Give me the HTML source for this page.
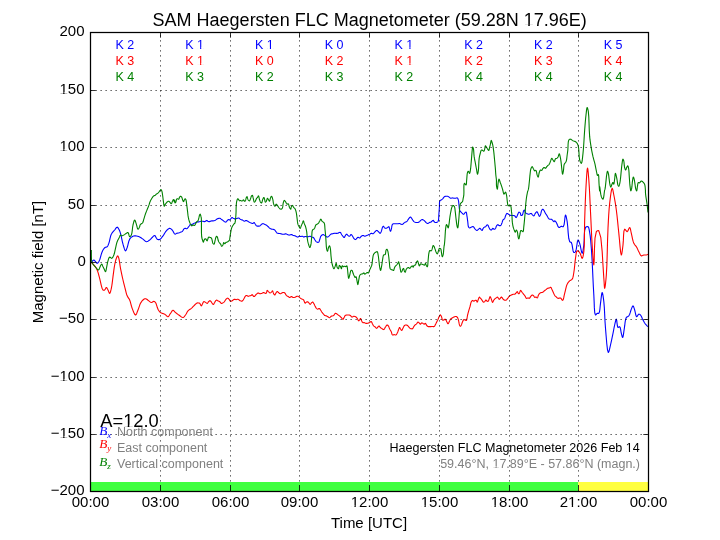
<!DOCTYPE html><html><head><meta charset="utf-8"><style>html,body{margin:0;padding:0;background:#fff;}svg{display:block;}text{font-family:"Liberation Sans",sans-serif;}</style></head><body>
<div style="will-change:transform;width:720px;height:540px">
<svg width="720" height="540" viewBox="0 0 720 540">
<rect x="0" y="0" width="720" height="540" fill="#fff"/>
<g fill="none" stroke-width="1.1" stroke-linejoin="round" stroke-linecap="butt">
<path d="M91.33 262.50 L91.62 262.11 L92.30 261.25 L93.13 260.39 L93.83 260.00 L94.27 260.18 L94.69 260.63 L95.09 261.17 L95.50 261.67 L95.91 262.17 L96.33 262.72 L96.74 263.16 L97.17 263.33 L97.69 263.09 L98.23 262.49 L98.76 261.69 L99.25 260.83 L99.85 259.38 L100.36 257.62 L100.84 255.80 L101.33 254.17 L101.73 253.02 L102.11 251.93 L102.52 250.92 L103.00 250.00 L103.47 249.27 L103.97 248.59 L104.52 247.99 L105.08 247.50 L105.60 247.25 L106.15 247.11 L106.69 246.96 L107.17 246.67 L107.67 246.06 L108.08 245.27 L108.45 244.36 L108.83 243.33 L109.42 241.28 L109.96 238.79 L110.56 236.28 L111.33 234.17 L112.09 232.94 L112.95 231.88 L113.83 230.93 L114.67 230.00 L115.32 229.11 L115.97 228.19 L116.59 227.46 L117.17 227.17 L117.62 227.37 L118.04 227.86 L118.45 228.50 L118.83 229.17 L119.29 230.04 L119.71 231.01 L120.10 232.10 L120.50 233.33 L121.12 235.74 L121.72 238.60 L122.33 241.53 L123.00 244.17 L123.60 246.27 L124.24 248.43 L124.88 250.13 L125.50 250.83 L125.93 250.52 L126.34 249.70 L126.75 248.61 L127.17 247.50 L127.75 245.57 L128.31 243.24 L128.92 240.96 L129.67 239.17 L130.22 238.35 L130.82 237.68 L131.46 237.12 L132.17 236.67 L132.93 236.30 L133.76 236.04 L134.62 235.88 L135.50 235.83 L136.53 235.94 L137.60 236.21 L138.66 236.58 L139.67 237.00 L140.55 237.46 L141.38 238.00 L142.19 238.58 L143.00 239.17 L143.83 239.87 L144.66 240.67 L145.49 241.34 L146.33 241.67 L147.17 241.55 L148.04 241.14 L148.88 240.57 L149.67 240.00 L150.34 239.43 L150.95 238.78 L151.55 238.12 L152.17 237.50 L152.79 236.86 L153.43 236.18 L154.06 235.66 L154.67 235.50 L155.30 236.04 L155.89 237.16 L156.49 238.36 L157.17 239.17 L157.76 239.45 L158.39 239.62 L159.04 239.64 L159.67 239.50 L160.52 238.94 L161.36 238.02 L162.19 236.92 L163.00 235.83 L163.84 234.60 L164.64 233.26 L165.46 231.95 L166.33 230.83 L167.14 229.99 L167.99 229.19 L168.85 228.58 L169.67 228.33 L170.32 228.47 L170.95 228.86 L171.57 229.41 L172.17 230.00 L172.91 231.04 L173.62 232.37 L174.31 233.56 L175.00 234.17 L175.41 234.13 L175.82 233.88 L176.23 233.57 L176.67 233.33 L177.17 233.20 L177.69 233.12 L178.23 233.04 L178.75 232.92 L179.28 232.74 L179.81 232.53 L180.33 232.31 L180.83 232.08 L181.28 231.90 L181.71 231.73 L182.13 231.53 L182.50 231.25 L182.85 230.79 L183.14 230.21 L183.43 229.64 L183.75 229.17 L184.04 228.88 L184.34 228.63 L184.66 228.44 L185.00 228.33 L185.40 228.38 L185.83 228.56 L186.26 228.73 L186.67 228.75 L187.11 228.50 L187.54 228.07 L187.95 227.56 L188.33 227.08 L188.70 226.65 L189.07 226.19 L189.38 225.76 L189.58 225.42 L189.61 225.29 L189.61 225.19 L189.62 225.09 L189.67 225.00 L189.93 224.86 L190.35 224.76 L190.82 224.68 L191.25 224.58 L191.57 224.49 L191.88 224.39 L192.18 224.29 L192.50 224.17 L192.90 223.98 L193.32 223.77 L193.75 223.55 L194.17 223.33 L194.58 223.12 L195.00 222.89 L195.41 222.68 L195.83 222.50 L196.24 222.37 L196.65 222.27 L197.07 222.18 L197.50 222.08 L198.01 221.98 L198.54 221.88 L199.07 221.77 L199.58 221.67 L200.01 221.56 L200.43 221.43 L200.84 221.33 L201.25 221.25 L201.67 221.21 L202.10 221.19 L202.52 221.21 L202.92 221.25 L203.24 221.35 L203.56 221.49 L203.86 221.61 L204.17 221.67 L204.48 221.63 L204.80 221.53 L205.11 221.40 L205.42 221.25 L205.74 221.03 L206.05 220.75 L206.36 220.52 L206.67 220.42 L206.98 220.52 L207.29 220.75 L207.60 221.03 L207.92 221.25 L208.22 221.40 L208.54 221.53 L208.85 221.63 L209.17 221.67 L209.47 221.62 L209.78 221.51 L210.09 221.37 L210.42 221.25 L210.82 221.13 L211.25 221.01 L211.68 220.90 L212.08 220.83 L212.40 220.82 L212.71 220.83 L213.01 220.85 L213.33 220.83 L213.74 220.78 L214.16 220.70 L214.59 220.58 L215.00 220.42 L215.43 220.15 L215.84 219.81 L216.24 219.46 L216.67 219.17 L217.07 218.95 L217.49 218.77 L217.91 218.62 L218.33 218.50 L218.75 218.40 L219.19 218.32 L219.61 218.29 L220.00 218.33 L220.33 218.47 L220.64 218.68 L220.93 218.92 L221.25 219.17 L221.65 219.46 L222.07 219.77 L222.50 220.10 L222.92 220.42 L223.34 220.75 L223.76 221.09 L224.17 221.41 L224.58 221.67 L224.90 221.84 L225.22 221.99 L225.53 222.09 L225.83 222.08 L226.16 221.90 L226.47 221.57 L226.78 221.19 L227.08 220.83 L227.39 220.48 L227.70 220.09 L228.01 219.77 L228.33 219.58 L228.64 219.62 L228.96 219.79 L229.28 219.96 L229.58 220.00 L229.91 219.82 L230.22 219.49 L230.53 219.11 L230.83 218.75 L231.14 218.38 L231.45 217.98 L231.76 217.65 L232.08 217.50 L232.39 217.58 L232.70 217.82 L233.01 218.11 L233.33 218.33 L233.66 218.45 L234.02 218.54 L234.34 218.63 L234.58 218.75 L234.67 218.86 L234.72 218.99 L234.77 219.11 L234.83 219.17 L234.93 219.14 L235.05 219.05 L235.18 218.93 L235.33 218.83 L235.68 218.72 L236.10 218.61 L236.56 218.52 L237.00 218.42 L237.42 218.28 L237.84 218.12 L238.26 218.00 L238.67 218.00 L239.09 218.20 L239.49 218.54 L239.90 218.93 L240.33 219.25 L240.83 219.49 L241.36 219.68 L241.89 219.87 L242.42 220.08 L242.95 220.38 L243.47 220.73 L243.99 221.03 L244.50 221.17 L244.93 221.07 L245.34 220.84 L245.76 220.60 L246.17 220.50 L246.59 220.60 L247.00 220.81 L247.42 221.08 L247.83 221.33 L248.25 221.58 L248.65 221.84 L249.07 222.10 L249.50 222.33 L250.01 222.57 L250.55 222.80 L251.09 223.00 L251.58 223.17 L251.92 223.27 L252.23 223.37 L252.53 223.43 L252.83 223.42 L253.16 223.24 L253.48 222.94 L253.79 222.67 L254.08 222.58 L254.41 222.80 L254.72 223.24 L255.03 223.77 L255.33 224.25 L255.63 224.70 L255.92 225.17 L256.23 225.60 L256.58 225.92 L256.96 226.07 L257.38 226.15 L257.82 226.17 L258.25 226.17 L258.68 226.16 L259.11 226.13 L259.53 226.06 L259.92 225.92 L260.25 225.67 L260.55 225.34 L260.84 224.98 L261.17 224.67 L261.56 224.36 L261.97 224.04 L262.40 223.79 L262.83 223.67 L263.25 223.70 L263.66 223.85 L264.08 224.05 L264.50 224.25 L264.92 224.43 L265.34 224.63 L265.76 224.85 L266.17 225.08 L266.59 225.36 L267.01 225.67 L267.43 225.99 L267.83 226.33 L268.25 226.74 L268.66 227.18 L269.07 227.62 L269.50 228.00 L269.90 228.30 L270.32 228.58 L270.74 228.81 L271.17 229.00 L271.58 229.10 L272.00 229.15 L272.42 229.18 L272.83 229.25 L273.26 229.35 L273.70 229.47 L274.12 229.62 L274.50 229.83 L274.85 230.14 L275.16 230.52 L275.45 230.93 L275.75 231.33 L276.05 231.77 L276.34 232.24 L276.65 232.67 L277.00 233.00 L277.38 233.18 L277.79 233.28 L278.22 233.35 L278.67 233.42 L279.18 233.49 L279.71 233.53 L280.24 233.58 L280.75 233.67 L281.18 233.80 L281.59 233.97 L282.00 234.14 L282.42 234.25 L282.83 234.30 L283.25 234.31 L283.67 234.29 L284.08 234.25 L284.50 234.15 L284.92 234.00 L285.34 233.87 L285.75 233.83 L286.17 233.92 L286.58 234.10 L287.00 234.31 L287.42 234.50 L287.83 234.68 L288.25 234.86 L288.66 235.01 L289.08 235.08 L289.51 235.04 L289.95 234.91 L290.37 234.77 L290.75 234.67 L290.99 234.62 L291.21 234.58 L291.43 234.56 L291.67 234.58 L292.05 234.72 L292.47 234.96 L292.90 235.21 L293.33 235.42 L293.75 235.54 L294.17 235.62 L294.59 235.71 L295.00 235.83 L295.43 236.02 L295.85 236.25 L296.27 236.47 L296.67 236.67 L296.99 236.82 L297.31 236.96 L297.61 237.07 L297.92 237.08 L298.23 236.94 L298.53 236.68 L298.83 236.42 L299.17 236.25 L299.56 236.24 L299.98 236.33 L300.41 236.45 L300.83 236.50 L301.26 236.45 L301.69 236.33 L302.11 236.24 L302.50 236.25 L302.83 236.42 L303.14 236.69 L303.44 236.95 L303.75 237.08 L304.05 237.02 L304.36 236.83 L304.67 236.63 L305.00 236.50 L305.40 236.49 L305.81 236.54 L306.24 236.62 L306.67 236.67 L307.08 236.69 L307.50 236.70 L307.92 236.70 L308.33 236.67 L308.75 236.56 L309.17 236.41 L309.59 236.28 L310.00 236.25 L310.42 236.38 L310.83 236.61 L311.25 236.87 L311.67 237.08 L312.09 237.18 L312.52 237.24 L312.94 237.32 L313.33 237.50 L313.80 237.98 L314.22 238.65 L314.61 239.36 L315.00 240.00 L315.31 240.47 L315.61 240.92 L315.92 241.32 L316.25 241.67 L316.55 241.90 L316.86 242.10 L317.18 242.25 L317.50 242.33 L317.82 242.36 L318.15 242.33 L318.47 242.25 L318.75 242.08 L319.02 241.72 L319.22 241.21 L319.39 240.61 L319.58 240.00 L319.87 239.09 L320.15 238.05 L320.46 237.06 L320.83 236.25 L321.12 235.85 L321.42 235.51 L321.75 235.23 L322.08 235.00 L322.39 234.83 L322.70 234.68 L323.02 234.59 L323.33 234.58 L323.65 234.70 L323.96 234.92 L324.27 235.18 L324.58 235.42 L324.90 235.62 L325.21 235.83 L325.52 236.04 L325.83 236.25 L326.14 236.49 L326.45 236.75 L326.76 236.97 L327.08 237.08 L327.39 237.07 L327.71 236.99 L328.03 236.84 L328.33 236.67 L328.66 236.41 L328.97 236.09 L329.28 235.75 L329.58 235.42 L329.89 235.08 L330.18 234.74 L330.49 234.42 L330.83 234.17 L331.22 234.01 L331.64 233.91 L332.07 233.84 L332.50 233.75 L332.92 233.64 L333.33 233.52 L333.75 233.41 L334.17 233.33 L334.58 233.30 L335.00 233.31 L335.42 233.32 L335.83 233.33 L336.25 233.35 L336.67 233.38 L337.09 233.39 L337.50 233.33 L337.93 233.16 L338.35 232.91 L338.76 232.66 L339.17 232.50 L339.49 232.43 L339.82 232.38 L340.13 232.40 L340.42 232.50 L340.77 232.86 L341.07 233.41 L341.36 234.03 L341.67 234.58 L341.97 235.03 L342.28 235.45 L342.59 235.86 L342.92 236.25 L343.23 236.65 L343.55 237.07 L343.86 237.39 L344.17 237.50 L344.49 237.23 L344.79 236.66 L345.09 235.98 L345.42 235.42 L345.72 235.01 L346.03 234.61 L346.35 234.29 L346.67 234.17 L346.98 234.31 L347.28 234.66 L347.60 235.07 L347.92 235.42 L348.23 235.68 L348.55 235.95 L348.87 236.16 L349.17 236.25 L349.39 236.22 L349.60 236.13 L349.80 235.99 L350.00 235.83 L350.22 235.56 L350.43 235.21 L350.63 234.88 L350.83 234.67 L350.96 234.60 L351.08 234.56 L351.20 234.55 L351.33 234.58 L351.63 234.82 L351.94 235.25 L352.27 235.76 L352.58 236.25 L352.89 236.77 L353.18 237.32 L353.48 237.86 L353.83 238.33 L354.22 238.76 L354.66 239.17 L355.09 239.48 L355.50 239.58 L355.83 239.43 L356.14 239.09 L356.44 238.69 L356.75 238.33 L357.05 238.03 L357.35 237.73 L357.66 237.47 L358.00 237.33 L358.40 237.41 L358.82 237.64 L359.26 237.86 L359.67 237.92 L360.10 237.66 L360.50 237.19 L360.91 236.67 L361.33 236.25 L361.74 235.96 L362.16 235.69 L362.58 235.49 L363.00 235.42 L363.42 235.54 L363.83 235.82 L364.25 236.10 L364.67 236.25 L365.08 236.20 L365.50 236.05 L365.92 235.85 L366.33 235.67 L366.75 235.51 L367.17 235.35 L367.59 235.18 L368.00 235.00 L368.42 234.80 L368.84 234.59 L369.25 234.38 L369.67 234.17 L370.08 233.93 L370.50 233.67 L370.91 233.45 L371.33 233.33 L371.75 233.39 L372.18 233.57 L372.60 233.74 L373.00 233.75 L373.43 233.49 L373.83 233.06 L374.24 232.55 L374.67 232.08 L375.17 231.58 L375.70 231.04 L376.24 230.60 L376.75 230.42 L377.18 230.54 L377.60 230.86 L378.01 231.27 L378.42 231.67 L378.85 232.15 L379.28 232.71 L379.70 233.17 L380.08 233.33 L380.43 233.10 L380.75 232.58 L381.05 231.92 L381.33 231.25 L381.67 230.24 L381.96 229.05 L382.25 227.92 L382.58 227.08 L382.78 226.77 L382.99 226.50 L383.20 226.31 L383.42 226.25 L383.71 226.47 L384.01 226.96 L384.33 227.52 L384.67 227.92 L384.96 228.10 L385.27 228.24 L385.59 228.32 L385.92 228.33 L386.33 228.23 L386.76 228.01 L387.18 227.75 L387.58 227.50 L387.92 227.24 L388.26 226.94 L388.56 226.71 L388.83 226.67 L389.11 227.01 L389.30 227.68 L389.48 228.46 L389.67 229.17 L389.87 229.80 L390.08 230.48 L390.29 231.03 L390.50 231.25 L390.71 231.04 L390.92 230.53 L391.13 229.85 L391.33 229.17 L391.59 227.95 L391.81 226.47 L392.10 225.10 L392.58 224.17 L393.04 223.90 L393.58 223.79 L394.14 223.77 L394.67 223.75 L395.10 223.73 L395.51 223.73 L395.92 223.74 L396.33 223.75 L396.75 223.76 L397.17 223.77 L397.58 223.77 L398.00 223.75 L398.42 223.68 L398.84 223.58 L399.26 223.50 L399.67 223.50 L400.09 223.65 L400.52 223.90 L400.93 224.16 L401.33 224.33 L401.66 224.40 L401.98 224.43 L402.29 224.41 L402.58 224.33 L402.91 224.13 L403.20 223.82 L403.51 223.48 L403.83 223.17 L404.23 222.87 L404.66 222.59 L405.09 222.32 L405.50 222.08 L405.83 221.92 L406.17 221.79 L406.48 221.66 L406.75 221.50 L406.92 221.36 L407.05 221.21 L407.18 221.04 L407.33 220.83 L407.69 220.30 L408.11 219.62 L408.55 218.92 L409.00 218.33 L409.37 217.91 L409.75 217.49 L410.13 217.19 L410.50 217.08 L410.87 217.27 L411.22 217.70 L411.57 218.23 L411.92 218.75 L412.32 219.36 L412.72 220.04 L413.14 220.70 L413.58 221.25 L413.97 221.60 L414.38 221.90 L414.80 222.15 L415.25 222.33 L415.75 222.46 L416.28 222.52 L416.82 222.53 L417.33 222.50 L417.77 222.46 L418.19 222.38 L418.60 222.27 L419.00 222.08 L419.43 221.74 L419.84 221.28 L420.24 220.81 L420.67 220.42 L421.07 220.13 L421.49 219.86 L421.91 219.66 L422.33 219.58 L422.75 219.66 L423.17 219.85 L423.58 220.12 L424.00 220.42 L424.52 220.88 L425.04 221.45 L425.57 222.02 L426.08 222.50 L426.50 222.84 L426.92 223.16 L427.33 223.41 L427.75 223.50 L428.16 223.38 L428.58 223.09 L428.99 222.76 L429.42 222.50 L429.84 222.38 L430.27 222.31 L430.69 222.23 L431.08 222.08 L431.43 221.81 L431.73 221.46 L432.03 221.11 L432.33 220.83 L432.59 220.66 L432.84 220.51 L433.09 220.41 L433.33 220.42 L433.61 220.68 L433.85 221.17 L434.10 221.70 L434.42 222.08 L434.79 222.29 L435.23 222.42 L435.67 222.49 L436.08 222.50 L436.42 222.46 L436.74 222.38 L437.05 222.25 L437.33 222.08 L437.62 221.86 L437.89 221.59 L438.13 221.25 L438.33 220.83 L438.59 219.72 L438.70 218.26 L438.75 216.64 L438.83 215.00 L438.98 212.99 L439.13 210.83 L439.28 208.68 L439.42 206.67 L439.46 205.01 L439.46 203.34 L439.54 201.88 L439.83 200.83 L440.09 200.53 L440.41 200.34 L440.74 200.19 L441.08 200.00 L441.49 199.72 L441.93 199.42 L442.36 199.10 L442.75 198.75 L443.08 198.34 L443.37 197.89 L443.66 197.45 L444.00 197.08 L444.37 196.80 L444.78 196.56 L445.21 196.37 L445.67 196.25 L446.25 196.19 L446.89 196.22 L447.54 196.32 L448.17 196.50 L448.82 196.87 L449.45 197.39 L450.07 197.88 L450.67 198.17 L451.10 198.18 L451.51 198.09 L451.92 197.97 L452.33 197.92 L452.75 197.95 L453.17 198.03 L453.58 198.11 L454.00 198.17 L454.42 198.19 L454.83 198.20 L455.25 198.19 L455.67 198.17 L456.10 198.08 L456.55 197.94 L456.97 197.85 L457.33 197.92 L457.67 198.23 L457.93 198.73 L458.14 199.35 L458.33 200.00 L458.57 201.08 L458.72 202.33 L458.85 203.67 L459.00 205.00 L459.16 206.53 L459.29 208.18 L459.49 209.69 L459.83 210.83 L460.11 211.24 L460.42 211.54 L460.76 211.80 L461.08 212.08 L461.39 212.40 L461.70 212.72 L462.02 213.04 L462.33 213.33 L462.64 213.65 L462.96 213.98 L463.28 214.24 L463.58 214.33 L463.90 214.15 L464.21 213.76 L464.51 213.30 L464.83 212.92 L465.15 212.62 L465.49 212.32 L465.81 212.11 L466.08 212.08 L466.40 212.56 L466.60 213.51 L466.75 214.69 L466.92 215.83 L467.14 217.20 L467.35 218.68 L467.54 220.19 L467.75 221.67 L467.91 223.15 L468.04 224.70 L468.23 226.09 L468.58 227.08 L468.85 227.42 L469.16 227.68 L469.49 227.85 L469.83 227.92 L470.23 227.83 L470.65 227.60 L471.08 227.32 L471.50 227.08 L471.89 226.88 L472.28 226.67 L472.66 226.52 L473.00 226.50 L473.28 226.64 L473.52 226.89 L473.76 227.19 L474.00 227.50 L474.30 227.89 L474.60 228.33 L474.91 228.77 L475.25 229.17 L475.64 229.57 L476.06 229.97 L476.49 230.29 L476.92 230.42 L477.34 230.27 L477.76 229.93 L478.18 229.52 L478.58 229.17 L478.91 228.90 L479.22 228.62 L479.53 228.40 L479.83 228.33 L480.15 228.50 L480.47 228.84 L480.77 229.24 L481.08 229.58 L481.36 229.86 L481.64 230.15 L481.92 230.36 L482.17 230.42 L482.44 230.13 L482.67 229.56 L482.90 228.89 L483.17 228.33 L483.45 227.96 L483.76 227.62 L484.08 227.33 L484.42 227.08 L484.72 226.95 L485.05 226.89 L485.37 226.81 L485.67 226.67 L486.00 226.29 L486.31 225.79 L486.61 225.30 L486.92 225.00 L487.13 224.92 L487.34 224.89 L487.55 224.91 L487.75 225.00 L488.09 225.40 L488.39 226.07 L488.69 226.82 L489.00 227.50 L489.29 228.08 L489.59 228.67 L489.90 229.19 L490.25 229.58 L490.55 229.79 L490.87 229.95 L491.20 230.03 L491.50 230.00 L491.83 229.69 L492.13 229.14 L492.43 228.60 L492.75 228.33 L493.05 228.44 L493.36 228.74 L493.68 229.07 L494.00 229.25 L494.31 229.26 L494.64 229.19 L494.96 229.05 L495.25 228.83 L495.61 228.26 L495.90 227.46 L496.17 226.61 L496.50 225.92 L496.79 225.50 L497.10 225.10 L497.42 224.80 L497.75 224.67 L498.05 224.76 L498.35 225.02 L498.66 225.30 L499.00 225.50 L499.41 225.60 L499.85 225.66 L500.28 225.64 L500.67 225.50 L501.05 225.08 L501.36 224.45 L501.64 223.72 L501.92 223.00 L502.22 222.15 L502.50 221.21 L502.80 220.34 L503.17 219.67 L503.46 219.41 L503.79 219.25 L504.12 219.09 L504.42 218.83 L504.78 218.15 L505.07 217.27 L505.35 216.33 L505.67 215.50 L505.95 214.86 L506.25 214.22 L506.57 213.69 L506.92 213.42 L507.21 213.43 L507.52 213.57 L507.84 213.79 L508.17 214.00 L508.57 214.26 L508.98 214.56 L509.40 214.85 L509.83 215.08 L510.24 215.24 L510.66 215.35 L511.08 215.44 L511.50 215.50 L511.92 215.52 L512.33 215.50 L512.75 215.48 L513.17 215.50 L513.60 215.55 L514.03 215.62 L514.45 215.73 L514.83 215.92 L515.19 216.33 L515.50 216.89 L515.79 217.38 L516.08 217.58 L516.40 217.36 L516.71 216.83 L517.02 216.15 L517.33 215.50 L517.73 214.59 L518.14 213.53 L518.55 212.62 L519.00 212.17 L519.31 212.19 L519.65 212.38 L519.97 212.67 L520.25 213.00 L520.50 213.60 L520.66 214.38 L520.82 215.09 L521.08 215.50 L521.37 215.55 L521.70 215.49 L522.04 215.32 L522.33 215.08 L522.73 214.27 L523.01 213.06 L523.27 211.82 L523.58 210.92 L523.78 210.60 L524.00 210.32 L524.21 210.13 L524.42 210.08 L524.71 210.49 L524.99 211.34 L525.28 212.29 L525.67 213.00 L526.04 213.30 L526.46 213.52 L526.90 213.68 L527.33 213.83 L527.74 213.99 L528.15 214.13 L528.57 214.23 L529.00 214.25 L529.52 214.08 L530.07 213.77 L530.61 213.49 L531.08 213.42 L531.43 213.60 L531.73 213.93 L532.02 214.31 L532.33 214.67 L532.70 215.05 L533.09 215.48 L533.47 215.82 L533.83 215.92 L534.21 215.59 L534.54 214.90 L534.87 214.10 L535.25 213.42 L535.65 212.87 L536.09 212.32 L536.52 211.89 L536.92 211.75 L537.26 212.00 L537.57 212.54 L537.87 213.21 L538.17 213.83 L538.48 214.55 L538.80 215.37 L539.10 216.04 L539.42 216.33 L539.69 216.18 L539.97 215.77 L540.25 215.23 L540.50 214.67 L540.81 213.71 L541.07 212.54 L541.34 211.40 L541.67 210.50 L541.92 210.06 L542.18 209.66 L542.46 209.37 L542.75 209.25 L543.06 209.37 L543.38 209.67 L543.70 210.08 L544.00 210.50 L544.33 211.05 L544.63 211.69 L544.92 212.36 L545.25 213.00 L545.64 213.63 L546.07 214.24 L546.50 214.86 L546.92 215.50 L547.33 216.26 L547.74 217.07 L548.15 217.82 L548.58 218.42 L548.88 218.71 L549.18 218.94 L549.50 219.12 L549.83 219.25 L550.24 219.29 L550.67 219.23 L551.11 219.19 L551.50 219.25 L551.85 219.47 L552.15 219.80 L552.45 220.16 L552.75 220.50 L553.07 220.87 L553.40 221.29 L553.72 221.62 L554.00 221.75 L554.18 221.60 L554.33 221.29 L554.48 220.98 L554.67 220.83 L555.03 220.97 L555.45 221.37 L555.90 221.91 L556.33 222.50 L556.93 223.73 L557.51 225.30 L558.12 226.73 L558.83 227.50 L559.42 227.44 L560.06 227.05 L560.71 226.60 L561.33 226.33 L561.86 226.40 L562.38 226.61 L562.88 226.77 L563.33 226.67 L564.14 224.45 L564.65 220.49 L565.05 216.70 L565.50 215.00 L565.92 215.64 L566.34 217.26 L566.76 219.43 L567.17 221.67 L567.72 226.53 L568.16 232.64 L568.73 238.27 L569.67 241.67 L570.06 242.00 L570.50 242.11 L570.93 242.21 L571.33 242.50 L572.05 244.60 L572.58 247.84 L573.11 250.92 L573.83 252.50 L574.23 252.56 L574.67 252.41 L575.10 252.10 L575.50 251.67 L576.28 249.18 L576.87 245.28 L577.39 241.65 L578.00 240.00 L578.41 240.29 L578.83 241.10 L579.25 242.19 L579.67 243.33 L580.33 245.91 L580.98 249.24 L581.60 252.12 L582.17 253.33 L582.63 252.49 L583.06 250.40 L583.46 247.69 L583.83 245.00 L584.15 240.56 L584.29 235.27 L584.62 230.47 L585.50 227.50 L586.08 226.97 L586.75 226.64 L587.43 226.54 L588.00 226.67 L588.61 227.45 L589.02 228.86 L589.34 230.63 L589.67 232.50 L590.19 235.93 L590.63 240.01 L591.00 244.28 L591.33 248.33 L591.58 251.60 L591.78 254.69 L591.96 257.94 L592.17 261.67 L592.54 269.14 L592.94 277.93 L593.37 286.91 L593.83 295.00 L594.12 301.23 L594.35 307.63 L594.74 312.72 L595.50 315.00 L595.87 314.85 L596.28 314.33 L596.71 313.72 L597.17 313.33 L597.58 313.30 L598.02 313.40 L598.45 313.47 L598.83 313.33 L599.50 311.84 L599.89 309.25 L600.17 306.20 L600.50 303.33 L600.92 300.15 L601.33 296.59 L601.74 293.70 L602.17 292.50 L602.59 293.39 L603.02 295.63 L603.45 298.60 L603.83 301.67 L604.32 307.38 L604.67 314.21 L605.02 321.43 L605.50 328.33 L606.09 335.58 L606.76 343.48 L607.51 349.85 L608.33 352.50 L608.85 351.74 L609.40 349.82 L609.96 347.36 L610.50 345.00 L611.15 342.22 L611.80 339.21 L612.42 336.18 L613.00 333.33 L613.44 331.12 L613.84 328.98 L614.24 326.94 L614.67 325.00 L615.07 323.19 L615.50 321.28 L615.93 319.77 L616.33 319.17 L616.71 320.41 L617.03 323.16 L617.41 326.00 L618.00 327.50 L618.39 327.43 L618.83 327.09 L619.28 326.74 L619.67 326.67 L620.23 327.61 L620.63 329.42 L620.96 331.52 L621.33 333.33 L621.67 334.65 L622.01 336.01 L622.34 337.08 L622.67 337.50 L623.10 336.50 L623.51 334.10 L623.91 331.10 L624.33 328.33 L624.73 325.45 L625.09 322.35 L625.57 319.52 L626.33 317.50 L626.90 316.94 L627.56 316.63 L628.23 316.33 L628.83 315.83 L629.58 314.46 L630.20 312.66 L630.76 310.78 L631.33 309.17 L631.76 308.09 L632.18 307.00 L632.60 306.16 L633.00 305.83 L633.43 306.27 L633.85 307.34 L634.26 308.69 L634.67 310.00 L635.14 311.84 L635.59 313.99 L636.07 315.82 L636.67 316.67 L637.16 316.35 L637.71 315.52 L638.27 314.64 L638.83 314.17 L639.25 314.18 L639.67 314.34 L640.09 314.63 L640.50 315.00 L641.16 315.95 L641.77 317.25 L642.37 318.68 L643.00 320.00 L643.60 321.11 L644.21 322.20 L644.84 323.23 L645.50 324.17 L646.22 324.98 L647.04 325.79 L647.72 326.42 L648.00 326.67" stroke="#0000ff"/>
<path d="M91.33 262.50 L91.72 262.85 L92.64 263.70 L93.74 264.79 L94.67 265.83 L95.37 266.78 L96.01 267.76 L96.60 268.82 L97.17 270.00 L97.85 271.83 L98.46 273.88 L99.04 276.08 L99.67 278.33 L100.43 281.51 L101.20 285.11 L102.04 288.23 L103.00 290.00 L103.41 290.20 L103.84 290.25 L104.27 290.17 L104.67 290.00 L105.13 289.46 L105.54 288.62 L105.93 287.84 L106.33 287.50 L106.75 287.76 L107.18 288.41 L107.59 289.23 L108.00 290.00 L108.44 290.95 L108.86 292.06 L109.27 292.97 L109.67 293.33 L110.12 292.82 L110.55 291.58 L110.96 289.97 L111.33 288.33 L111.82 285.77 L112.23 282.81 L112.61 279.70 L113.00 276.67 L113.40 273.67 L113.80 270.63 L114.21 267.68 L114.67 265.00 L115.05 263.12 L115.45 261.33 L115.87 259.72 L116.33 258.33 L116.66 257.49 L117.00 256.68 L117.34 256.07 L117.67 255.83 L117.97 256.07 L118.27 256.66 L118.56 257.46 L118.83 258.33 L119.29 260.34 L119.68 262.86 L120.06 265.62 L120.50 268.33 L121.07 271.21 L121.69 274.17 L122.34 277.13 L123.00 280.00 L123.62 282.62 L124.26 285.22 L124.90 287.71 L125.50 290.00 L125.90 291.60 L126.27 293.09 L126.67 294.50 L127.17 295.83 L127.74 296.90 L128.39 297.87 L129.06 298.86 L129.67 300.00 L130.33 301.89 L130.91 304.04 L131.48 306.26 L132.17 308.33 L132.94 310.38 L133.80 312.56 L134.68 314.29 L135.50 315.00 L136.16 314.47 L136.79 313.18 L137.40 311.54 L138.00 310.00 L138.63 308.35 L139.22 306.57 L139.82 304.84 L140.50 303.33 L141.08 302.35 L141.68 301.45 L142.32 300.67 L143.00 300.00 L143.59 299.51 L144.21 299.07 L144.85 298.77 L145.50 298.67 L146.32 298.93 L147.17 299.51 L148.02 300.22 L148.83 300.83 L149.48 301.33 L150.10 301.86 L150.71 302.30 L151.33 302.50 L151.97 302.33 L152.61 301.92 L153.25 301.50 L153.83 301.33 L154.29 301.44 L154.71 301.69 L155.11 302.04 L155.50 302.50 L156.16 303.82 L156.75 305.63 L157.33 307.55 L158.00 309.17 L158.55 310.15 L159.13 311.04 L159.76 311.82 L160.50 312.50 L161.45 313.02 L162.53 313.39 L163.64 313.73 L164.67 314.17 L165.57 314.87 L166.43 315.73 L167.24 316.43 L168.00 316.67 L168.68 316.24 L169.30 315.35 L169.89 314.29 L170.50 313.33 L171.11 312.44 L171.73 311.47 L172.36 310.69 L173.00 310.33 L173.60 310.54 L174.21 311.12 L174.84 311.84 L175.50 312.50 L176.28 313.12 L177.10 313.76 L177.95 314.39 L178.83 315.00 L179.86 315.78 L180.96 316.63 L182.04 317.29 L183.00 317.50 L183.70 317.20 L184.33 316.58 L184.92 315.79 L185.50 315.00 L186.13 314.02 L186.71 312.90 L187.31 311.80 L188.00 310.83 L188.77 310.13 L189.62 309.54 L190.49 308.97 L191.33 308.33 L192.19 307.53 L193.03 306.65 L193.86 305.78 L194.67 305.00 L195.30 304.39 L195.91 303.80 L196.52 303.31 L197.17 303.00 L197.79 302.90 L198.46 302.93 L199.10 303.07 L199.67 303.33 L200.16 303.92 L200.55 304.76 L200.92 305.51 L201.33 305.83 L201.90 305.22 L202.49 303.85 L203.13 302.44 L203.83 301.67 L204.49 301.73 L205.23 302.13 L205.93 302.62 L206.50 303.00 L206.72 303.15 L206.90 303.29 L207.07 303.40 L207.25 303.42 L207.55 303.19 L207.85 302.73 L208.16 302.20 L208.50 301.75 L208.86 301.39 L209.25 301.03 L209.64 300.76 L210.00 300.67 L210.31 300.79 L210.61 301.06 L210.89 301.40 L211.17 301.75 L211.45 302.14 L211.71 302.58 L211.97 303.02 L212.25 303.42 L212.52 303.77 L212.79 304.13 L213.07 304.40 L213.33 304.50 L213.59 304.33 L213.84 303.94 L214.08 303.46 L214.33 303.00 L214.63 302.48 L214.94 301.91 L215.25 301.37 L215.58 300.92 L215.84 300.63 L216.10 300.37 L216.38 300.17 L216.67 300.08 L217.00 300.16 L217.35 300.39 L217.71 300.67 L218.08 300.92 L218.49 301.11 L218.92 301.30 L219.34 301.50 L219.75 301.75 L220.18 302.17 L220.60 302.69 L221.00 303.16 L221.42 303.42 L221.73 303.42 L222.05 303.32 L222.36 303.16 L222.67 303.00 L222.99 302.83 L223.31 302.64 L223.62 302.42 L223.92 302.17 L224.25 301.80 L224.56 301.38 L224.86 300.93 L225.17 300.50 L225.47 300.06 L225.77 299.61 L226.08 299.18 L226.42 298.83 L226.75 298.57 L227.11 298.34 L227.48 298.19 L227.83 298.17 L228.23 298.37 L228.61 298.75 L228.98 299.22 L229.33 299.67 L229.65 300.13 L229.95 300.64 L230.25 301.08 L230.58 301.33 L230.88 301.35 L231.20 301.24 L231.52 301.08 L231.83 300.92 L232.15 300.73 L232.45 300.52 L232.76 300.30 L233.08 300.08 L233.48 299.83 L233.91 299.57 L234.34 299.35 L234.75 299.25 L235.07 299.30 L235.37 299.44 L235.68 299.59 L236.00 299.67 L236.41 299.60 L236.84 299.45 L237.26 299.30 L237.67 299.25 L238.00 299.33 L238.31 299.47 L238.61 299.65 L238.92 299.83 L239.23 300.03 L239.53 300.26 L239.84 300.48 L240.17 300.67 L240.57 300.86 L241.00 301.04 L241.44 301.17 L241.83 301.17 L242.18 301.02 L242.49 300.76 L242.79 300.43 L243.08 300.08 L243.42 299.62 L243.73 299.09 L244.03 298.54 L244.33 298.00 L244.63 297.44 L244.93 296.85 L245.23 296.31 L245.58 295.92 L245.88 295.72 L246.20 295.58 L246.52 295.50 L246.83 295.50 L247.15 295.65 L247.46 295.92 L247.77 296.19 L248.08 296.33 L248.39 296.31 L248.69 296.19 L249.01 296.04 L249.33 295.92 L249.74 295.82 L250.17 295.74 L250.60 295.64 L251.00 295.50 L251.34 295.27 L251.65 294.98 L251.96 294.74 L252.25 294.67 L252.58 294.92 L252.89 295.43 L253.19 295.97 L253.50 296.33 L253.71 296.45 L253.91 296.52 L254.12 296.54 L254.33 296.50 L254.64 296.28 L254.96 295.91 L255.27 295.48 L255.58 295.08 L255.89 294.75 L256.20 294.43 L256.51 294.12 L256.83 293.83 L257.13 293.57 L257.44 293.31 L257.75 293.10 L258.08 293.00 L258.48 293.07 L258.89 293.29 L259.32 293.53 L259.75 293.67 L260.16 293.68 L260.57 293.62 L260.99 293.53 L261.42 293.42 L261.94 293.21 L262.48 292.94 L263.01 292.70 L263.50 292.58 L263.83 292.62 L264.14 292.73 L264.44 292.87 L264.75 293.00 L265.08 293.14 L265.42 293.30 L265.74 293.42 L266.00 293.42 L266.17 293.28 L266.29 293.06 L266.39 292.79 L266.50 292.50 L266.67 291.96 L266.83 291.28 L267.01 290.70 L267.25 290.42 L267.52 290.52 L267.82 290.86 L268.16 291.29 L268.50 291.67 L268.90 292.04 L269.33 292.45 L269.76 292.78 L270.17 292.92 L270.49 292.84 L270.81 292.63 L271.12 292.36 L271.42 292.08 L271.71 291.73 L271.99 291.31 L272.25 290.96 L272.50 290.83 L272.77 291.15 L273.00 291.84 L273.23 292.65 L273.50 293.33 L273.79 293.87 L274.11 294.41 L274.44 294.84 L274.75 295.00 L275.07 294.75 L275.37 294.18 L275.68 293.50 L276.00 292.92 L276.30 292.47 L276.61 292.02 L276.93 291.66 L277.25 291.50 L277.55 291.59 L277.86 291.86 L278.17 292.19 L278.50 292.50 L278.90 292.86 L279.31 293.25 L279.74 293.59 L280.17 293.75 L280.58 293.67 L280.99 293.43 L281.41 293.14 L281.83 292.92 L282.25 292.76 L282.68 292.63 L283.10 292.53 L283.50 292.50 L283.83 292.53 L284.14 292.60 L284.45 292.73 L284.75 292.92 L285.18 293.41 L285.57 294.11 L285.98 294.83 L286.42 295.42 L286.81 295.75 L287.23 296.02 L287.66 296.25 L288.08 296.50 L288.50 296.80 L288.92 297.13 L289.33 297.39 L289.75 297.50 L290.17 297.34 L290.58 297.00 L291.00 296.66 L291.42 296.50 L291.83 296.64 L292.24 296.95 L292.66 297.29 L293.08 297.50 L293.49 297.55 L293.91 297.52 L294.34 297.44 L294.75 297.33 L295.18 297.16 L295.60 296.92 L296.01 296.68 L296.42 296.50 L296.74 296.39 L297.05 296.30 L297.36 296.25 L297.67 296.25 L297.99 296.33 L298.30 296.46 L298.61 296.64 L298.92 296.83 L299.23 297.07 L299.53 297.35 L299.84 297.64 L300.17 297.92 L300.56 298.20 L300.98 298.48 L301.41 298.75 L301.83 299.00 L302.26 299.19 L302.69 299.35 L303.11 299.54 L303.50 299.83 L303.97 300.63 L304.37 301.71 L304.75 302.69 L305.17 303.17 L305.47 303.06 L305.77 302.74 L306.09 302.36 L306.42 302.08 L306.72 301.95 L307.04 301.85 L307.36 301.80 L307.67 301.83 L307.99 302.00 L308.31 302.27 L308.61 302.60 L308.92 302.92 L309.24 303.32 L309.55 303.79 L309.86 304.17 L310.17 304.33 L310.48 304.17 L310.78 303.77 L311.09 303.30 L311.42 302.92 L311.72 302.63 L312.04 302.35 L312.36 302.14 L312.67 302.08 L313.00 302.29 L313.32 302.71 L313.62 303.23 L313.92 303.75 L314.24 304.34 L314.55 304.98 L314.85 305.63 L315.17 306.25 L315.46 306.81 L315.76 307.38 L316.08 307.90 L316.42 308.33 L316.71 308.62 L317.01 308.88 L317.33 309.07 L317.67 309.17 L318.07 309.07 L318.51 308.81 L318.94 308.56 L319.33 308.50 L319.68 308.71 L320.00 309.09 L320.29 309.55 L320.58 310.00 L320.90 310.49 L321.20 311.02 L321.50 311.56 L321.83 312.08 L322.24 312.63 L322.67 313.19 L323.11 313.72 L323.50 314.17 L323.74 314.41 L323.97 314.62 L324.18 314.82 L324.33 315.00 L324.38 315.11 L324.40 315.22 L324.43 315.32 L324.50 315.42 L324.79 315.55 L325.23 315.63 L325.71 315.72 L326.17 315.83 L326.59 316.01 L327.01 316.22 L327.42 316.44 L327.83 316.67 L328.25 316.96 L328.67 317.30 L329.09 317.57 L329.50 317.67 L329.92 317.47 L330.33 317.06 L330.74 316.59 L331.17 316.25 L331.58 316.10 L332.01 316.02 L332.44 315.95 L332.83 315.83 L333.17 315.67 L333.49 315.48 L333.79 315.26 L334.08 315.00 L334.40 314.58 L334.70 314.06 L335.00 313.60 L335.33 313.33 L335.63 313.32 L335.94 313.41 L336.26 313.57 L336.58 313.75 L336.99 314.01 L337.41 314.32 L337.83 314.67 L338.25 315.00 L338.67 315.31 L339.09 315.61 L339.51 315.92 L339.92 316.25 L340.34 316.65 L340.77 317.07 L341.18 317.50 L341.58 317.92 L341.95 318.35 L342.32 318.83 L342.67 319.20 L343.00 319.33 L343.30 319.11 L343.56 318.63 L343.82 318.04 L344.08 317.50 L344.37 316.95 L344.65 316.36 L344.96 315.82 L345.33 315.42 L345.71 315.22 L346.13 315.11 L346.57 315.05 L347.00 315.00 L347.42 314.96 L347.83 314.95 L348.25 314.96 L348.67 315.00 L349.09 315.05 L349.52 315.12 L349.93 315.24 L350.33 315.42 L350.77 315.81 L351.17 316.34 L351.58 316.83 L352.00 317.08 L352.41 317.00 L352.83 316.73 L353.26 316.42 L353.67 316.25 L353.99 316.25 L354.30 316.30 L354.61 316.40 L354.92 316.50 L355.24 316.61 L355.56 316.73 L355.87 316.88 L356.17 317.08 L356.50 317.42 L356.82 317.84 L357.12 318.29 L357.42 318.75 L357.74 319.34 L358.05 320.01 L358.36 320.58 L358.67 320.83 L358.88 320.76 L359.09 320.56 L359.29 320.28 L359.50 320.00 L359.75 319.59 L360.01 319.09 L360.26 318.67 L360.50 318.50 L360.77 318.75 L361.04 319.33 L361.30 320.04 L361.58 320.67 L361.87 321.24 L362.16 321.84 L362.48 322.35 L362.83 322.67 L363.12 322.70 L363.43 322.62 L363.76 322.52 L364.08 322.50 L364.49 322.65 L364.90 322.90 L365.32 323.16 L365.75 323.33 L366.17 323.40 L366.60 323.41 L367.02 323.39 L367.42 323.33 L367.75 323.26 L368.06 323.16 L368.36 323.04 L368.67 322.92 L368.98 322.79 L369.30 322.65 L369.61 322.50 L369.92 322.33 L370.24 322.09 L370.56 321.79 L370.87 321.56 L371.17 321.50 L371.51 321.80 L371.82 322.39 L372.11 323.11 L372.42 323.75 L372.71 324.30 L373.00 324.85 L373.31 325.37 L373.67 325.83 L374.06 326.19 L374.49 326.49 L374.93 326.78 L375.33 327.08 L375.67 327.45 L375.98 327.86 L376.28 328.19 L376.58 328.33 L376.89 328.19 L377.21 327.86 L377.52 327.45 L377.83 327.08 L378.15 326.75 L378.46 326.39 L378.78 326.10 L379.08 326.00 L379.40 326.19 L379.70 326.61 L380.01 327.10 L380.33 327.50 L380.67 327.77 L381.04 328.03 L381.37 328.23 L381.58 328.33 L381.61 328.34 L381.62 328.33 L381.64 328.33 L381.67 328.33 L382.01 328.58 L382.57 329.03 L383.20 329.45 L383.75 329.58 L384.21 329.24 L384.62 328.57 L385.01 327.78 L385.42 327.08 L385.83 326.46 L386.24 325.80 L386.66 325.26 L387.08 325.00 L387.40 325.04 L387.73 325.23 L388.04 325.51 L388.33 325.83 L388.68 326.42 L388.98 327.17 L389.26 327.98 L389.58 328.75 L389.98 329.48 L390.42 330.19 L390.86 330.92 L391.25 331.67 L391.56 332.59 L391.82 333.60 L392.10 334.49 L392.50 335.00 L392.87 335.03 L393.29 334.88 L393.73 334.68 L394.17 334.58 L394.59 334.68 L395.02 334.86 L395.44 335.02 L395.83 335.00 L396.30 334.63 L396.74 334.00 L397.13 333.24 L397.50 332.50 L397.86 331.68 L398.17 330.80 L398.46 329.93 L398.75 329.17 L398.96 328.63 L399.16 328.09 L399.36 327.68 L399.58 327.50 L399.84 327.68 L400.11 328.14 L400.39 328.69 L400.67 329.17 L400.91 329.56 L401.16 329.97 L401.42 330.29 L401.67 330.42 L401.97 330.19 L402.28 329.65 L402.59 328.97 L402.92 328.33 L403.30 327.58 L403.69 326.74 L404.11 325.97 L404.58 325.42 L404.97 325.19 L405.40 325.05 L405.83 324.99 L406.25 325.00 L406.68 325.10 L407.10 325.28 L407.52 325.54 L407.92 325.83 L408.35 326.30 L408.75 326.88 L409.15 327.45 L409.58 327.92 L409.99 328.20 L410.41 328.44 L410.84 328.63 L411.25 328.75 L411.58 328.82 L411.90 328.87 L412.21 328.85 L412.50 328.75 L412.85 328.39 L413.15 327.84 L413.44 327.22 L413.75 326.67 L414.05 326.22 L414.34 325.79 L414.66 325.38 L415.00 325.00 L415.40 324.67 L415.83 324.38 L416.27 324.08 L416.67 323.75 L417.00 323.30 L417.30 322.76 L417.60 322.31 L417.92 322.08 L418.22 322.14 L418.54 322.35 L418.86 322.64 L419.17 322.92 L419.49 323.26 L419.80 323.68 L420.11 324.02 L420.42 324.17 L420.72 323.99 L421.03 323.58 L421.34 323.16 L421.67 322.92 L421.97 322.92 L422.29 323.02 L422.61 323.17 L422.92 323.33 L423.24 323.55 L423.55 323.83 L423.86 324.07 L424.17 324.17 L424.48 324.02 L424.81 323.72 L425.12 323.43 L425.42 323.33 L425.75 323.63 L426.05 324.21 L426.34 324.87 L426.67 325.42 L426.95 325.75 L427.24 326.05 L427.56 326.30 L427.92 326.50 L428.39 326.63 L428.91 326.67 L429.46 326.67 L430.00 326.67 L430.52 326.64 L431.04 326.59 L431.56 326.54 L432.08 326.50 L432.62 326.53 L433.18 326.60 L433.71 326.62 L434.17 326.50 L434.55 326.17 L434.86 325.68 L435.13 325.13 L435.42 324.58 L435.74 323.99 L436.05 323.36 L436.36 322.72 L436.67 322.08 L436.99 321.45 L437.31 320.82 L437.63 320.20 L437.92 319.58 L438.14 319.05 L438.34 318.52 L438.54 318.00 L438.75 317.50 L438.96 317.05 L439.18 316.62 L439.39 316.20 L439.58 315.83 L439.70 315.58 L439.80 315.33 L439.90 315.12 L440.00 315.00 L440.04 314.99 L440.09 314.99 L440.13 315.00 L440.17 315.00 L440.21 314.96 L440.25 314.90 L440.28 314.85 L440.33 314.83 L440.56 315.03 L440.87 315.49 L441.20 316.08 L441.50 316.67 L441.77 317.52 L441.99 318.52 L442.23 319.43 L442.58 320.00 L442.87 320.12 L443.19 320.14 L443.52 320.09 L443.83 320.00 L444.16 319.80 L444.48 319.51 L444.79 319.25 L445.08 319.17 L445.41 319.37 L445.72 319.79 L446.02 320.31 L446.33 320.83 L446.75 321.64 L447.17 322.60 L447.60 323.41 L448.00 323.75 L448.33 323.53 L448.64 322.99 L448.95 322.30 L449.25 321.67 L449.55 321.03 L449.84 320.36 L450.14 319.72 L450.50 319.17 L450.88 318.79 L451.29 318.47 L451.73 318.18 L452.17 317.92 L452.58 317.68 L452.99 317.46 L453.41 317.27 L453.83 317.08 L454.25 316.89 L454.66 316.70 L455.08 316.56 L455.50 316.50 L455.93 316.53 L456.37 316.63 L456.79 316.81 L457.17 317.08 L457.57 317.62 L457.88 318.33 L458.16 319.15 L458.42 320.00 L458.71 321.23 L458.96 322.63 L459.20 323.96 L459.50 325.00 L459.69 325.44 L459.90 325.84 L460.11 326.13 L460.33 326.25 L460.58 326.14 L460.83 325.84 L461.09 325.43 L461.33 325.00 L461.66 324.27 L461.96 323.39 L462.26 322.48 L462.58 321.67 L462.87 321.03 L463.16 320.40 L463.48 319.88 L463.83 319.58 L464.13 319.57 L464.44 319.69 L464.76 319.86 L465.08 320.00 L465.41 320.15 L465.73 320.33 L466.05 320.45 L466.33 320.42 L466.77 319.64 L467.06 318.21 L467.30 316.52 L467.58 315.00 L467.89 313.82 L468.20 312.67 L468.51 311.54 L468.83 310.42 L469.14 309.36 L469.46 308.33 L469.77 307.30 L470.08 306.25 L470.38 305.05 L470.65 303.78 L470.95 302.60 L471.33 301.67 L471.62 301.22 L471.93 300.83 L472.25 300.54 L472.58 300.42 L472.89 300.53 L473.20 300.82 L473.52 301.11 L473.83 301.25 L474.14 301.14 L474.45 300.88 L474.76 300.60 L475.08 300.42 L475.40 300.34 L475.73 300.29 L476.05 300.31 L476.33 300.42 L476.59 300.78 L476.79 301.35 L476.97 301.86 L477.17 302.08 L477.47 301.75 L477.78 300.95 L478.10 299.99 L478.42 299.17 L478.68 298.53 L478.95 297.85 L479.22 297.32 L479.50 297.08 L479.74 297.21 L480.00 297.56 L480.25 297.98 L480.50 298.33 L480.71 298.55 L480.92 298.75 L481.13 298.95 L481.33 299.17 L481.54 299.45 L481.74 299.76 L481.95 300.09 L482.17 300.42 L482.45 300.88 L482.75 301.39 L483.07 301.83 L483.42 302.08 L483.72 302.11 L484.04 302.02 L484.36 301.86 L484.67 301.67 L485.00 301.27 L485.31 300.72 L485.60 300.23 L485.92 300.00 L486.22 300.16 L486.53 300.55 L486.85 300.98 L487.17 301.25 L487.42 301.33 L487.68 301.37 L487.93 301.35 L488.17 301.25 L488.49 300.84 L488.76 300.18 L489.01 299.43 L489.25 298.75 L489.46 298.12 L489.66 297.44 L489.86 296.90 L490.08 296.67 L490.37 296.93 L490.69 297.58 L491.02 298.40 L491.33 299.17 L491.65 300.07 L491.96 301.11 L492.26 301.97 L492.58 302.33 L492.87 302.07 L493.17 301.43 L493.48 300.65 L493.83 300.00 L494.22 299.53 L494.64 299.09 L495.08 298.69 L495.50 298.33 L495.82 298.09 L496.15 297.87 L496.46 297.68 L496.75 297.50 L496.95 297.36 L497.12 297.21 L497.30 297.10 L497.50 297.08 L497.91 297.47 L498.37 298.24 L498.85 298.99 L499.33 299.33 L499.84 298.99 L500.37 298.21 L500.90 297.43 L501.42 297.08 L501.92 297.41 L502.41 298.15 L502.93 298.98 L503.50 299.58 L504.10 299.90 L504.76 300.13 L505.42 300.23 L506.00 300.17 L506.47 299.88 L506.89 299.41 L507.27 298.86 L507.67 298.33 L508.08 297.81 L508.47 297.25 L508.88 296.72 L509.33 296.25 L509.82 295.87 L510.35 295.55 L510.90 295.26 L511.42 295.00 L511.84 294.80 L512.24 294.62 L512.65 294.47 L513.08 294.33 L513.59 294.25 L514.13 294.23 L514.66 294.17 L515.17 294.00 L515.74 293.45 L516.28 292.65 L516.79 291.95 L517.25 291.67 L517.60 291.99 L517.90 292.68 L518.19 293.38 L518.50 293.75 L518.71 293.76 L518.92 293.67 L519.13 293.53 L519.33 293.33 L519.66 292.67 L519.94 291.71 L520.24 290.83 L520.58 290.42 L520.96 290.62 L521.39 291.17 L521.82 291.87 L522.25 292.50 L522.67 293.03 L523.10 293.55 L523.52 294.08 L523.92 294.58 L524.25 295.01 L524.56 295.41 L524.87 295.82 L525.17 296.25 L525.47 296.82 L525.75 297.45 L526.05 298.00 L526.42 298.33 L526.80 298.35 L527.23 298.19 L527.67 298.00 L528.08 297.92 L528.41 298.01 L528.73 298.18 L529.04 298.32 L529.33 298.33 L529.66 298.09 L529.96 297.65 L530.26 297.13 L530.58 296.67 L530.98 296.18 L531.40 295.65 L531.83 295.21 L532.25 295.00 L532.57 295.03 L532.89 295.19 L533.20 295.41 L533.50 295.67 L533.82 296.07 L534.12 296.58 L534.42 297.05 L534.75 297.33 L535.05 297.34 L535.37 297.23 L535.69 297.11 L536.00 297.08 L536.33 297.27 L536.65 297.57 L536.96 297.84 L537.25 297.92 L537.60 297.51 L537.90 296.70 L538.18 295.78 L538.50 295.00 L538.79 294.52 L539.08 294.08 L539.40 293.68 L539.75 293.33 L540.14 293.06 L540.56 292.83 L541.00 292.64 L541.42 292.50 L541.74 292.44 L542.05 292.44 L542.36 292.42 L542.67 292.33 L543.08 292.06 L543.50 291.66 L543.91 291.23 L544.33 290.83 L544.75 290.51 L545.16 290.20 L545.58 289.89 L546.00 289.58 L546.41 289.25 L546.82 288.91 L547.24 288.59 L547.67 288.33 L548.08 288.19 L548.50 288.09 L548.92 288.02 L549.33 287.92 L549.73 287.73 L550.12 287.50 L550.50 287.34 L550.83 287.33 L551.18 287.65 L551.47 288.23 L551.73 288.92 L552.00 289.58 L552.33 290.28 L552.66 291.02 L552.99 291.76 L553.33 292.50 L553.67 293.26 L554.02 294.05 L554.37 294.79 L554.75 295.42 L555.04 295.78 L555.34 296.08 L555.66 296.36 L556.00 296.67 L556.45 297.12 L556.93 297.62 L557.45 298.05 L558.00 298.33 L558.60 298.33 L559.25 298.15 L559.90 297.97 L560.50 298.00 L561.11 298.51 L561.67 299.33 L562.19 300.07 L562.67 300.33 L563.27 299.50 L563.75 297.69 L564.19 295.45 L564.67 293.33 L565.24 291.01 L565.81 288.52 L566.43 286.14 L567.17 284.17 L567.73 283.15 L568.34 282.27 L568.99 281.51 L569.67 280.83 L570.29 280.39 L570.96 280.07 L571.61 279.71 L572.17 279.17 L572.77 277.91 L573.19 276.31 L573.51 274.47 L573.83 272.50 L574.29 269.23 L574.68 265.47 L575.05 261.68 L575.50 258.33 L575.82 255.99 L576.13 253.65 L576.54 251.77 L577.17 250.83 L577.73 250.86 L578.39 251.24 L579.06 251.83 L579.67 252.50 L580.41 253.96 L581.06 255.91 L581.64 257.62 L582.17 258.33 L582.67 257.70 L583.11 256.13 L583.50 254.00 L583.83 251.67 L584.29 245.43 L584.46 237.36 L584.51 228.53 L584.67 220.00 L584.95 211.50 L585.26 202.78 L585.60 194.34 L586.00 186.67 L586.34 180.75 L586.71 174.67 L587.10 169.92 L587.50 168.00 L587.83 169.17 L588.17 172.14 L588.51 176.03 L588.83 180.00 L589.29 186.83 L589.71 194.84 L590.10 203.34 L590.50 211.67 L590.91 220.14 L591.30 228.81 L591.71 237.24 L592.17 245.00 L592.55 251.30 L592.96 257.82 L593.39 262.93 L593.83 265.00 L594.20 260.24 L594.43 249.54 L595.00 238.23 L596.33 231.67 L596.91 231.09 L597.57 230.73 L598.23 230.63 L598.83 230.83 L600.83 237.72 L602.18 251.62 L603.10 267.00 L603.83 278.33 L604.09 281.82 L604.27 285.04 L604.44 287.41 L604.67 288.33 L605.04 287.07 L605.49 283.85 L605.94 279.53 L606.33 275.00 L606.87 264.99 L607.24 252.54 L607.58 239.65 L608.00 228.33 L608.35 221.39 L608.70 214.94 L609.12 208.95 L609.67 203.33 L610.22 198.61 L610.85 193.73 L611.52 189.90 L612.17 188.33 L612.58 188.99 L613.00 190.65 L613.42 192.82 L613.83 195.00 L614.47 198.24 L615.11 201.91 L615.74 205.87 L616.33 210.00 L617.00 215.49 L617.62 221.40 L618.22 227.44 L618.83 233.33 L619.45 239.82 L620.08 246.92 L620.71 252.64 L621.33 255.00 L621.76 253.97 L622.19 251.40 L622.61 248.14 L623.00 245.00 L623.33 240.63 L623.55 235.52 L623.91 231.19 L624.67 229.17 L625.22 229.47 L625.87 230.37 L626.54 231.28 L627.17 231.67 L627.85 230.96 L628.51 229.51 L629.12 228.10 L629.67 227.50 L630.16 228.14 L630.56 229.62 L630.93 231.50 L631.33 233.33 L631.89 235.78 L632.45 238.53 L633.08 241.18 L633.83 243.33 L634.42 244.31 L635.06 245.09 L635.71 245.82 L636.33 246.67 L636.98 247.84 L637.60 249.12 L638.21 250.43 L638.83 251.67 L639.42 252.88 L640.01 254.16 L640.63 255.23 L641.33 255.83 L641.92 255.84 L642.54 255.57 L643.19 255.23 L643.83 255.00 L644.47 254.97 L645.12 255.01 L645.75 255.05 L646.33 255.00 L646.86 254.81 L647.40 254.53 L647.83 254.28 L648.00 254.17" stroke="#ff0000"/>
<path d="M91.33 250.00 L91.31 251.48 L91.31 254.93 L91.42 258.82 L91.75 261.67 L92.00 262.44 L92.28 263.05 L92.61 263.59 L93.00 264.17 L93.54 264.90 L94.16 265.63 L94.83 266.36 L95.50 267.08 L96.23 267.98 L97.00 268.96 L97.74 269.74 L98.42 270.00 L99.02 269.44 L99.54 268.26 L100.02 266.91 L100.50 265.83 L100.82 265.27 L101.14 264.72 L101.45 264.31 L101.75 264.17 L102.08 264.46 L102.39 265.12 L102.69 265.93 L103.00 266.67 L103.31 267.29 L103.63 267.92 L103.94 268.54 L104.25 269.17 L104.57 269.91 L104.89 270.74 L105.21 271.41 L105.50 271.67 L105.85 271.11 L106.16 269.80 L106.46 268.17 L106.75 266.67 L107.05 265.21 L107.33 263.69 L107.63 262.20 L108.00 260.83 L108.35 259.68 L108.72 258.52 L109.15 257.57 L109.67 257.08 L110.15 257.22 L110.69 257.70 L111.24 258.18 L111.75 258.33 L112.33 257.92 L112.88 257.10 L113.38 256.07 L113.83 255.00 L114.34 253.51 L114.74 251.83 L115.11 250.06 L115.50 248.33 L115.89 246.63 L116.27 244.89 L116.68 243.21 L117.17 241.67 L117.65 240.52 L118.20 239.44 L118.75 238.44 L119.25 237.50 L119.58 236.72 L119.89 235.92 L120.19 235.29 L120.50 235.00 L120.69 235.10 L120.87 235.37 L121.08 235.66 L121.33 235.83 L121.86 235.82 L122.50 235.62 L123.18 235.32 L123.83 235.00 L124.48 234.62 L125.12 234.17 L125.74 233.72 L126.33 233.33 L126.78 233.03 L127.21 232.72 L127.62 232.50 L128.00 232.50 L128.48 233.25 L128.86 234.64 L129.22 236.00 L129.67 236.67 L130.07 236.58 L130.51 236.21 L130.95 235.65 L131.33 235.00 L131.90 233.04 L132.27 230.33 L132.59 227.46 L133.00 225.00 L133.39 223.39 L133.80 221.77 L134.23 220.51 L134.67 220.00 L135.08 220.44 L135.50 221.53 L135.92 222.90 L136.33 224.17 L136.75 225.60 L137.14 227.23 L137.54 228.57 L138.00 229.17 L138.42 228.91 L138.89 228.23 L139.33 227.39 L139.67 226.67 L139.80 226.23 L139.87 225.79 L139.94 225.38 L140.08 225.00 L140.33 224.65 L140.65 224.32 L140.99 224.03 L141.33 223.75 L141.65 223.55 L141.98 223.38 L142.29 223.20 L142.58 222.92 L142.96 222.20 L143.26 221.27 L143.53 220.22 L143.83 219.17 L144.23 217.87 L144.64 216.47 L145.06 215.07 L145.50 213.75 L145.90 212.67 L146.32 211.63 L146.75 210.61 L147.17 209.58 L147.59 208.54 L148.02 207.49 L148.44 206.45 L148.83 205.42 L149.16 204.45 L149.46 203.48 L149.76 202.54 L150.08 201.67 L150.37 201.00 L150.68 200.37 L150.99 199.77 L151.33 199.17 L151.73 198.50 L152.17 197.82 L152.60 197.19 L153.00 196.67 L153.21 196.41 L153.41 196.19 L153.60 196.00 L153.83 195.83 L154.12 195.71 L154.44 195.63 L154.77 195.55 L155.08 195.42 L155.41 195.15 L155.71 194.82 L156.02 194.47 L156.33 194.17 L156.64 193.94 L156.96 193.75 L157.28 193.56 L157.58 193.33 L157.91 193.05 L158.22 192.75 L158.53 192.42 L158.83 192.08 L159.16 191.67 L159.48 191.23 L159.78 190.80 L160.08 190.42 L160.30 190.14 L160.51 189.86 L160.72 189.66 L160.92 189.58 L161.14 189.71 L161.36 190.01 L161.56 190.40 L161.75 190.83 L162.01 191.67 L162.22 192.69 L162.40 193.83 L162.58 195.00 L162.80 196.58 L163.00 198.31 L163.20 200.05 L163.42 201.67 L163.60 203.08 L163.79 204.57 L164.00 205.75 L164.25 206.25 L164.43 206.08 L164.63 205.63 L164.85 205.08 L165.08 204.58 L165.37 204.15 L165.68 203.72 L166.00 203.31 L166.33 202.92 L166.63 202.57 L166.94 202.22 L167.25 201.91 L167.58 201.67 L167.89 201.49 L168.21 201.33 L168.53 201.24 L168.83 201.25 L169.16 201.43 L169.47 201.76 L169.78 202.14 L170.08 202.50 L170.40 202.88 L170.73 203.31 L171.04 203.64 L171.33 203.75 L171.68 203.36 L171.99 202.54 L172.29 201.59 L172.58 200.83 L172.80 200.42 L173.01 200.00 L173.22 199.69 L173.42 199.58 L173.65 199.92 L173.87 200.64 L174.07 201.35 L174.25 201.67 L174.38 201.40 L174.49 200.83 L174.58 200.26 L174.67 200.00 L174.74 200.44 L174.77 201.42 L174.84 202.42 L175.00 202.92 L175.18 202.87 L175.40 202.68 L175.63 202.39 L175.83 202.08 L176.07 201.43 L176.23 200.57 L176.41 199.75 L176.67 199.17 L176.85 198.99 L177.05 198.86 L177.27 198.78 L177.50 198.75 L177.81 198.83 L178.14 199.01 L178.47 199.16 L178.75 199.17 L179.01 198.83 L179.18 198.24 L179.35 197.59 L179.58 197.08 L179.83 196.79 L180.10 196.52 L180.39 196.32 L180.67 196.25 L180.93 196.32 L181.19 196.51 L181.44 196.78 L181.67 197.08 L181.96 197.69 L182.20 198.47 L182.43 199.29 L182.67 200.00 L182.87 200.53 L183.08 201.07 L183.29 201.50 L183.50 201.67 L183.71 201.48 L183.91 201.02 L184.12 200.47 L184.33 200.00 L184.54 199.61 L184.74 199.20 L184.96 198.88 L185.17 198.75 L185.38 198.87 L185.60 199.16 L185.81 199.56 L186.00 200.00 L186.23 200.84 L186.39 201.86 L186.52 202.99 L186.67 204.17 L186.88 205.72 L187.08 207.40 L187.29 209.13 L187.50 210.83 L187.69 212.53 L187.87 214.25 L188.08 215.93 L188.33 217.50 L188.60 218.75 L188.90 219.94 L189.23 221.06 L189.58 222.08 L189.88 222.79 L190.20 223.45 L190.52 224.04 L190.83 224.58 L191.04 224.98 L191.23 225.37 L191.43 225.68 L191.67 225.83 L191.94 225.74 L192.25 225.47 L192.57 225.17 L192.92 225.00 L193.32 225.06 L193.76 225.25 L194.20 225.42 L194.58 225.42 L194.96 225.09 L195.27 224.54 L195.55 223.90 L195.83 223.33 L196.08 222.89 L196.32 222.44 L196.56 222.03 L196.83 221.67 L197.10 221.44 L197.39 221.27 L197.67 221.09 L197.92 220.83 L198.18 220.33 L198.39 219.71 L198.57 219.02 L198.75 218.33 L198.96 217.48 L199.16 216.55 L199.36 215.68 L199.58 215.00 L199.72 214.70 L199.87 214.43 L200.02 214.23 L200.17 214.17 L200.40 214.47 L200.62 215.15 L200.83 215.96 L201.00 216.67 L201.11 217.06 L201.19 217.40 L201.26 217.80 L201.33 218.33 L201.45 221.88 L201.43 227.20 L201.45 232.66 L201.67 236.67 L201.84 237.72 L202.04 238.56 L202.27 239.29 L202.50 240.00 L202.70 240.66 L202.91 241.34 L203.12 241.87 L203.33 242.08 L203.53 241.84 L203.73 241.26 L203.93 240.57 L204.17 240.00 L204.40 239.61 L204.64 239.22 L204.90 238.91 L205.17 238.75 L205.37 238.76 L205.58 238.85 L205.80 238.99 L206.00 239.17 L206.29 239.58 L206.57 240.14 L206.84 240.63 L207.08 240.83 L207.31 240.59 L207.52 240.02 L207.71 239.35 L207.92 238.75 L208.10 238.26 L208.28 237.76 L208.49 237.33 L208.75 237.08 L209.03 237.07 L209.34 237.19 L209.68 237.36 L210.00 237.50 L210.32 237.58 L210.66 237.64 L210.97 237.74 L211.25 237.92 L211.53 238.30 L211.73 238.82 L211.91 239.40 L212.08 240.00 L212.28 240.83 L212.45 241.77 L212.64 242.65 L212.92 243.33 L213.17 243.66 L213.45 243.95 L213.74 244.14 L214.00 244.17 L214.32 243.74 L214.57 242.86 L214.78 241.80 L215.00 240.83 L215.21 239.96 L215.39 239.06 L215.59 238.21 L215.83 237.50 L216.03 237.08 L216.24 236.67 L216.45 236.37 L216.67 236.25 L216.88 236.37 L217.10 236.67 L217.31 237.08 L217.50 237.50 L217.73 238.23 L217.90 239.12 L218.09 240.02 L218.33 240.83 L218.61 241.41 L218.92 241.96 L219.25 242.46 L219.58 242.92 L219.86 243.25 L220.14 243.54 L220.41 243.83 L220.67 244.17 L220.93 244.73 L221.16 245.40 L221.39 245.98 L221.67 246.25 L221.97 246.16 L222.30 245.85 L222.63 245.43 L222.92 245.00 L223.16 244.34 L223.34 243.53 L223.52 242.83 L223.75 242.50 L224.00 242.67 L224.27 243.11 L224.56 243.55 L224.83 243.75 L225.08 243.59 L225.31 243.23 L225.56 242.81 L225.83 242.50 L226.12 242.36 L226.44 242.27 L226.77 242.20 L227.08 242.08 L227.41 241.90 L227.73 241.70 L228.04 241.47 L228.33 241.25 L228.60 241.07 L228.87 240.90 L229.12 240.70 L229.33 240.42 L229.59 239.70 L229.75 238.76 L229.86 237.71 L230.00 236.67 L230.20 235.45 L230.40 234.17 L230.61 232.88 L230.83 231.67 L231.02 230.67 L231.20 229.70 L231.41 228.78 L231.67 227.92 L231.94 227.23 L232.25 226.59 L232.58 225.98 L232.92 225.42 L233.22 224.94 L233.54 224.48 L233.86 224.07 L234.17 223.75 L234.34 223.64 L234.51 223.58 L234.68 223.50 L234.83 223.33 L235.28 221.72 L235.60 219.04 L235.83 216.00 L236.00 213.33 L236.08 211.56 L236.09 209.89 L236.10 208.27 L236.17 206.67 L236.27 205.11 L236.40 203.53 L236.57 202.06 L236.83 200.83 L237.05 200.14 L237.29 199.48 L237.56 198.98 L237.83 198.75 L238.04 198.82 L238.25 199.03 L238.46 199.31 L238.67 199.58 L238.88 199.92 L239.07 200.31 L239.28 200.65 L239.50 200.83 L239.69 200.80 L239.90 200.65 L240.11 200.49 L240.33 200.42 L240.63 200.50 L240.96 200.69 L241.28 200.89 L241.58 201.00 L241.80 201.01 L242.01 200.98 L242.21 200.92 L242.42 200.83 L242.69 200.59 L242.97 200.25 L243.24 199.95 L243.50 199.83 L243.76 200.06 L244.00 200.52 L244.24 201.00 L244.50 201.25 L244.71 201.25 L244.92 201.17 L245.14 201.03 L245.33 200.83 L245.63 200.18 L245.87 199.23 L246.08 198.25 L246.33 197.50 L246.50 197.20 L246.67 196.92 L246.84 196.73 L247.00 196.67 L247.18 196.92 L247.33 197.49 L247.48 198.16 L247.67 198.75 L247.89 199.22 L248.13 199.68 L248.39 200.10 L248.67 200.42 L248.87 200.59 L249.09 200.75 L249.30 200.84 L249.50 200.83 L249.78 200.56 L250.03 200.03 L250.26 199.38 L250.50 198.75 L250.76 197.99 L251.01 197.15 L251.27 196.38 L251.58 195.83 L251.79 195.64 L252.01 195.48 L252.22 195.40 L252.42 195.42 L252.68 195.81 L252.88 196.56 L253.05 197.47 L253.25 198.33 L253.49 199.39 L253.73 200.59 L254.00 201.60 L254.33 202.08 L254.57 202.05 L254.83 201.85 L255.09 201.57 L255.33 201.25 L255.67 200.61 L255.97 199.79 L256.27 198.97 L256.58 198.33 L256.79 198.08 L257.00 197.90 L257.21 197.72 L257.42 197.50 L257.69 197.04 L257.98 196.48 L258.25 196.01 L258.50 195.83 L258.78 196.29 L259.01 197.30 L259.24 198.52 L259.50 199.58 L259.78 200.41 L260.08 201.24 L260.40 201.98 L260.75 202.50 L260.95 202.70 L261.17 202.85 L261.38 202.93 L261.58 202.92 L261.94 202.38 L262.23 201.33 L262.52 200.14 L262.83 199.17 L263.08 198.61 L263.34 198.07 L263.60 197.65 L263.83 197.50 L264.06 197.73 L264.28 198.28 L264.48 198.95 L264.67 199.58 L264.83 200.29 L264.96 201.09 L265.11 201.75 L265.33 202.08 L265.56 202.05 L265.82 201.85 L266.09 201.57 L266.33 201.25 L266.63 200.53 L266.88 199.57 L267.12 198.73 L267.42 198.33 L267.71 198.50 L268.04 198.95 L268.37 199.51 L268.67 200.00 L268.89 200.39 L269.11 200.80 L269.31 201.13 L269.50 201.25 L269.76 200.83 L269.99 199.90 L270.22 198.81 L270.50 197.92 L270.75 197.37 L271.03 196.82 L271.31 196.40 L271.58 196.25 L271.92 196.62 L272.25 197.48 L272.56 198.56 L272.83 199.58 L273.06 200.72 L273.22 201.95 L273.40 203.14 L273.67 204.17 L273.94 204.86 L274.26 205.53 L274.59 206.05 L274.92 206.25 L275.22 205.93 L275.53 205.23 L275.84 204.52 L276.17 204.17 L276.47 204.28 L276.79 204.60 L277.12 205.02 L277.42 205.42 L277.70 205.81 L277.96 206.23 L278.22 206.66 L278.50 207.08 L278.83 207.54 L279.18 208.00 L279.54 208.42 L279.92 208.75 L280.22 208.94 L280.54 209.09 L280.86 209.18 L281.17 209.17 L281.51 209.01 L281.84 208.74 L282.15 208.36 L282.42 207.92 L282.72 206.88 L282.89 205.53 L283.03 204.12 L283.25 202.92 L283.48 202.11 L283.73 201.32 L284.02 200.70 L284.33 200.42 L284.66 200.57 L285.03 201.00 L285.40 201.56 L285.75 202.08 L286.07 202.65 L286.36 203.29 L286.66 203.85 L287.00 204.17 L287.30 204.13 L287.63 203.94 L287.96 203.76 L288.25 203.75 L288.63 204.33 L288.91 205.38 L289.18 206.55 L289.50 207.50 L289.81 208.07 L290.15 208.62 L290.48 209.03 L290.75 209.17 L290.91 208.90 L291.00 208.34 L291.09 207.67 L291.25 207.08 L291.51 206.56 L291.83 206.01 L292.18 205.58 L292.50 205.42 L292.81 205.67 L293.12 206.25 L293.42 206.93 L293.75 207.50 L294.06 207.82 L294.39 208.09 L294.71 208.38 L295.00 208.75 L295.38 209.51 L295.70 210.43 L295.99 211.44 L296.25 212.50 L296.51 213.86 L296.71 215.33 L296.89 216.84 L297.08 218.33 L297.26 219.85 L297.43 221.41 L297.63 222.89 L297.92 224.17 L298.19 224.89 L298.51 225.53 L298.85 226.11 L299.17 226.67 L299.42 227.19 L299.67 227.74 L299.92 228.17 L300.17 228.33 L300.44 228.05 L300.71 227.40 L300.98 226.59 L301.25 225.83 L301.56 225.11 L301.89 224.36 L302.21 223.62 L302.50 222.92 L302.72 222.27 L302.93 221.59 L303.13 221.05 L303.33 220.83 L303.58 221.16 L303.82 221.95 L304.07 222.90 L304.33 223.75 L304.60 224.37 L304.88 224.95 L305.15 225.56 L305.42 226.25 L305.77 227.42 L306.10 228.75 L306.40 230.17 L306.67 231.67 L306.91 233.67 L307.08 235.85 L307.25 238.03 L307.50 240.00 L307.77 241.39 L308.07 242.70 L308.41 243.91 L308.75 245.00 L309.01 245.81 L309.29 246.62 L309.56 247.25 L309.83 247.50 L310.10 247.26 L310.36 246.65 L310.61 245.85 L310.83 245.00 L311.12 243.42 L311.32 241.51 L311.48 239.47 L311.67 237.50 L311.81 235.44 L311.91 233.26 L312.10 231.33 L312.50 230.00 L312.78 229.69 L313.11 229.49 L313.45 229.35 L313.75 229.17 L313.98 228.98 L314.19 228.81 L314.39 228.60 L314.58 228.33 L314.89 227.61 L315.17 226.66 L315.47 225.71 L315.83 225.00 L316.12 224.72 L316.44 224.52 L316.76 224.35 L317.08 224.17 L317.40 223.97 L317.72 223.79 L318.04 223.59 L318.33 223.33 L318.67 222.89 L318.98 222.36 L319.28 221.80 L319.58 221.25 L319.90 220.63 L320.21 219.95 L320.52 219.39 L320.83 219.17 L321.14 219.42 L321.43 220.02 L321.74 220.71 L322.08 221.25 L322.39 221.50 L322.71 221.69 L323.03 221.87 L323.33 222.08 L323.61 222.34 L323.88 222.61 L324.12 222.92 L324.33 223.33 L324.62 224.44 L324.77 225.88 L324.87 227.51 L325.00 229.17 L325.21 231.29 L325.42 233.57 L325.63 235.94 L325.83 238.33 L326.01 241.18 L326.17 244.23 L326.36 247.04 L326.67 249.17 L326.86 249.91 L327.07 250.59 L327.29 251.07 L327.50 251.25 L327.75 250.79 L327.98 249.73 L328.22 248.50 L328.50 247.50 L328.74 246.94 L329.00 246.40 L329.26 245.98 L329.50 245.83 L329.74 246.09 L329.96 246.69 L330.16 247.50 L330.33 248.33 L330.56 249.93 L330.71 251.85 L330.84 253.89 L331.00 255.83 L331.19 257.58 L331.38 259.34 L331.59 261.01 L331.83 262.50 L332.02 263.42 L332.21 264.26 L332.42 265.05 L332.67 265.83 L332.95 266.72 L333.26 267.67 L333.59 268.43 L333.92 268.75 L334.19 268.54 L334.47 268.01 L334.74 267.33 L335.00 266.67 L335.31 265.74 L335.61 264.63 L335.89 263.71 L336.17 263.33 L336.43 263.86 L336.66 265.07 L336.91 266.46 L337.25 267.50 L337.54 267.96 L337.88 268.38 L338.22 268.68 L338.50 268.75 L338.76 268.19 L338.92 267.08 L339.08 265.97 L339.33 265.42 L339.62 265.50 L339.95 265.82 L340.29 266.24 L340.58 266.67 L340.84 267.24 L341.04 267.93 L341.23 268.51 L341.42 268.75 L341.61 268.31 L341.77 267.35 L341.97 266.36 L342.25 265.83 L342.52 265.90 L342.84 266.18 L343.17 266.50 L343.50 266.67 L343.81 266.62 L344.12 266.48 L344.44 266.32 L344.75 266.25 L345.07 266.33 L345.40 266.49 L345.71 266.64 L346.00 266.67 L346.24 266.49 L346.46 266.20 L346.66 265.92 L346.83 265.83 L347.07 266.22 L347.24 267.07 L347.37 268.13 L347.50 269.17 L347.66 270.55 L347.80 272.08 L347.93 273.62 L348.08 275.00 L348.21 276.05 L348.34 277.14 L348.48 277.98 L348.67 278.33 L348.90 277.99 L349.18 277.13 L349.47 276.03 L349.75 275.00 L350.03 273.76 L350.30 272.36 L350.60 271.14 L351.00 270.42 L351.24 270.30 L351.50 270.26 L351.76 270.30 L352.00 270.42 L352.33 270.89 L352.59 271.66 L352.83 272.53 L353.08 273.33 L353.35 273.99 L353.61 274.63 L353.89 275.25 L354.17 275.83 L354.41 276.35 L354.66 276.88 L354.91 277.31 L355.17 277.50 L355.38 277.37 L355.59 277.07 L355.81 276.77 L356.00 276.67 L356.31 277.18 L356.56 278.29 L356.78 279.63 L357.00 280.83 L357.21 281.96 L357.42 283.19 L357.62 284.18 L357.83 284.58 L358.10 283.97 L358.38 282.49 L358.65 280.70 L358.92 279.17 L359.10 278.13 L359.26 277.11 L359.46 276.18 L359.75 275.42 L360.01 275.01 L360.31 274.67 L360.64 274.40 L361.00 274.17 L361.39 274.02 L361.83 273.94 L362.26 273.87 L362.67 273.75 L363.01 273.52 L363.34 273.23 L363.64 272.99 L363.92 272.92 L364.14 273.13 L364.33 273.54 L364.52 273.95 L364.75 274.17 L365.03 274.10 L365.35 273.88 L365.68 273.59 L366.00 273.33 L366.31 273.09 L366.62 272.83 L366.93 272.62 L367.25 272.50 L367.57 272.56 L367.90 272.75 L368.22 272.91 L368.50 272.92 L368.77 272.61 L368.96 272.08 L369.13 271.45 L369.33 270.83 L369.63 270.14 L369.94 269.40 L370.26 268.66 L370.58 267.92 L370.91 267.21 L371.25 266.52 L371.57 265.79 L371.83 265.00 L372.06 263.86 L372.21 262.60 L372.34 261.30 L372.50 260.00 L372.70 258.58 L372.90 257.09 L373.15 255.71 L373.50 254.58 L373.77 254.06 L374.08 253.62 L374.41 253.25 L374.75 252.92 L375.05 252.66 L375.36 252.44 L375.68 252.25 L376.00 252.08 L376.32 251.91 L376.66 251.74 L376.97 251.63 L377.25 251.67 L377.55 252.07 L377.76 252.79 L377.92 253.67 L378.08 254.58 L378.32 255.97 L378.53 257.54 L378.72 259.20 L378.92 260.83 L379.12 262.55 L379.30 264.33 L379.51 266.02 L379.75 267.50 L379.94 268.46 L380.15 269.40 L380.37 270.13 L380.58 270.42 L380.86 269.93 L381.14 268.75 L381.41 267.26 L381.67 265.83 L381.93 264.22 L382.17 262.48 L382.40 260.75 L382.67 259.17 L382.86 257.95 L383.04 256.75 L383.28 255.71 L383.67 255.00 L384.01 254.82 L384.42 254.79 L384.83 254.76 L385.17 254.58 L385.52 253.71 L385.70 252.40 L385.84 251.05 L386.08 250.08 L386.28 249.76 L386.49 249.49 L386.71 249.30 L386.92 249.25 L387.15 249.43 L387.36 249.83 L387.56 250.36 L387.75 250.92 L388.00 251.87 L388.21 252.99 L388.40 254.22 L388.58 255.50 L388.81 257.27 L389.01 259.19 L389.21 261.15 L389.42 263.00 L389.57 264.64 L389.69 266.31 L389.89 267.78 L390.25 268.83 L390.52 269.15 L390.83 269.36 L391.17 269.52 L391.50 269.67 L391.81 269.79 L392.14 269.89 L392.46 269.98 L392.75 270.08 L392.98 270.22 L393.19 270.38 L393.40 270.49 L393.58 270.50 L393.84 270.14 L394.03 269.47 L394.21 268.68 L394.42 268.00 L394.61 267.55 L394.80 267.12 L395.01 266.71 L395.25 266.33 L395.53 266.00 L395.85 265.70 L396.18 265.41 L396.50 265.08 L396.83 264.69 L397.16 264.28 L397.47 263.85 L397.75 263.42 L397.99 262.92 L398.20 262.37 L398.39 261.92 L398.58 261.75 L398.81 262.07 L399.02 262.82 L399.22 263.77 L399.42 264.67 L399.63 265.67 L399.84 266.73 L400.04 267.81 L400.25 268.83 L400.44 269.83 L400.62 270.90 L400.82 271.76 L401.08 272.17 L401.28 272.12 L401.50 271.91 L401.72 271.63 L401.92 271.33 L402.14 270.86 L402.33 270.29 L402.52 269.72 L402.75 269.25 L402.95 268.95 L403.17 268.67 L403.39 268.47 L403.58 268.42 L403.82 268.82 L404.00 269.67 L404.18 270.62 L404.42 271.33 L404.61 271.64 L404.83 271.92 L405.05 272.12 L405.25 272.17 L405.48 271.84 L405.66 271.16 L405.84 270.35 L406.08 269.67 L406.35 269.18 L406.66 268.72 L406.98 268.31 L407.33 268.00 L407.63 267.81 L407.95 267.67 L408.27 267.59 L408.58 267.58 L408.91 267.75 L409.22 268.05 L409.54 268.32 L409.83 268.42 L410.16 268.18 L410.46 267.72 L410.76 267.18 L411.08 266.75 L411.39 266.46 L411.72 266.17 L412.05 265.97 L412.33 265.92 L412.57 266.14 L412.78 266.57 L412.97 266.99 L413.17 267.17 L413.37 266.95 L413.55 266.46 L413.74 265.90 L414.00 265.50 L414.29 265.36 L414.62 265.31 L414.95 265.25 L415.25 265.08 L415.62 264.52 L415.92 263.71 L416.19 262.87 L416.50 262.17 L416.75 261.74 L417.01 261.33 L417.27 261.02 L417.50 260.92 L417.73 261.16 L417.94 261.69 L418.13 262.36 L418.33 263.00 L418.59 263.83 L418.85 264.78 L419.12 265.57 L419.42 265.92 L419.70 265.63 L419.99 264.96 L420.31 264.24 L420.67 263.83 L420.96 263.82 L421.27 263.94 L421.60 264.11 L421.92 264.25 L422.23 264.35 L422.54 264.46 L422.85 264.56 L423.17 264.67 L423.49 264.81 L423.81 264.97 L424.13 265.09 L424.42 265.08 L424.73 264.75 L425.01 264.18 L425.26 263.64 L425.50 263.42 L425.72 263.67 L425.91 264.25 L426.11 264.93 L426.33 265.50 L426.57 265.91 L426.84 266.34 L427.10 266.66 L427.33 266.75 L427.66 265.91 L427.86 264.03 L428.00 261.75 L428.17 259.67 L428.36 257.79 L428.53 255.86 L428.73 254.05 L429.00 252.58 L429.17 251.90 L429.34 251.27 L429.56 250.78 L429.83 250.50 L430.12 250.52 L430.45 250.70 L430.79 250.88 L431.08 250.92 L431.33 250.75 L431.54 250.46 L431.73 250.08 L431.92 249.67 L432.23 248.63 L432.53 247.27 L432.83 246.07 L433.17 245.50 L433.37 245.55 L433.58 245.74 L433.79 246.02 L434.00 246.33 L434.33 247.00 L434.64 247.85 L434.94 248.78 L435.25 249.67 L435.56 250.56 L435.86 251.48 L436.17 252.33 L436.50 253.00 L436.70 253.31 L436.92 253.59 L437.13 253.78 L437.33 253.83 L437.67 253.41 L437.99 252.50 L438.29 251.42 L438.58 250.50 L438.78 249.87 L438.95 249.24 L439.15 248.72 L439.42 248.42 L439.71 248.37 L440.04 248.43 L440.38 248.59 L440.67 248.83 L441.00 249.57 L441.19 250.66 L441.33 251.87 L441.50 253.00 L441.70 254.12 L441.90 255.35 L442.10 256.33 L442.33 256.75 L442.54 256.57 L442.76 256.07 L442.97 255.39 L443.17 254.67 L443.45 252.92 L443.65 250.68 L443.83 248.45 L444.00 246.75 L444.09 246.24 L444.17 245.85 L444.25 245.47 L444.33 245.00 L444.46 243.98 L444.59 242.79 L444.71 241.46 L444.83 240.00 L445.02 237.27 L445.20 234.06 L445.40 230.91 L445.67 228.33 L445.84 227.08 L446.03 225.88 L446.24 224.97 L446.50 224.58 L446.73 224.75 L447.00 225.19 L447.26 225.74 L447.50 226.25 L447.69 226.74 L447.86 227.29 L448.01 227.74 L448.17 227.92 L448.39 227.52 L448.60 226.57 L448.81 225.35 L449.00 224.17 L449.23 222.61 L449.43 220.89 L449.62 219.14 L449.83 217.50 L450.03 216.20 L450.22 214.96 L450.43 213.74 L450.67 212.50 L450.94 211.08 L451.22 209.60 L451.55 208.21 L451.92 207.08 L452.16 206.51 L452.42 205.99 L452.70 205.60 L453.00 205.42 L453.35 205.50 L453.73 205.78 L454.10 206.19 L454.42 206.67 L454.76 207.63 L454.96 208.87 L455.09 210.26 L455.25 211.67 L455.47 213.43 L455.66 215.32 L455.86 217.26 L456.08 219.17 L456.33 221.19 L456.58 223.32 L456.86 225.24 L457.17 226.67 L457.31 227.12 L457.46 227.53 L457.61 227.82 L457.75 227.92 L458.00 227.24 L458.21 225.64 L458.40 223.62 L458.58 221.67 L458.81 219.30 L459.01 216.72 L459.20 214.12 L459.42 211.67 L459.57 209.58 L459.70 207.49 L459.90 205.62 L460.25 204.17 L460.52 203.62 L460.84 203.19 L461.17 202.83 L461.50 202.50 L461.76 202.28 L462.03 202.12 L462.28 201.93 L462.50 201.67 L462.75 201.01 L462.91 200.15 L463.03 199.22 L463.17 198.33 L463.34 197.55 L463.52 196.80 L463.69 195.98 L463.83 195.00 L463.92 192.09 L463.87 188.29 L463.92 184.93 L464.33 183.33 L464.71 183.55 L465.17 184.16 L465.63 184.77 L466.00 185.00 L466.31 184.40 L466.46 183.12 L466.55 181.53 L466.67 180.00 L466.84 178.08 L466.99 175.94 L467.19 173.95 L467.50 172.50 L467.69 172.04 L467.89 171.64 L468.11 171.35 L468.33 171.25 L468.64 171.59 L468.98 172.31 L469.30 173.03 L469.58 173.33 L469.85 172.98 L470.06 172.16 L470.24 171.09 L470.42 170.00 L470.67 168.20 L470.87 166.12 L471.06 163.89 L471.25 161.67 L471.46 159.14 L471.67 156.48 L471.87 153.92 L472.08 151.67 L472.21 150.19 L472.32 148.71 L472.46 147.57 L472.67 147.08 L472.82 147.18 L473.00 147.46 L473.17 147.87 L473.33 148.33 L473.61 149.91 L473.78 152.09 L473.94 154.48 L474.17 156.67 L474.45 158.40 L474.77 160.08 L475.10 161.72 L475.42 163.33 L475.69 164.83 L475.96 166.30 L476.23 167.75 L476.50 169.17 L476.75 170.68 L477.00 172.31 L477.25 173.63 L477.50 174.17 L477.71 173.86 L477.93 173.06 L478.14 171.98 L478.33 170.83 L478.59 168.13 L478.75 164.70 L478.91 161.21 L479.17 158.33 L479.38 157.01 L479.61 155.86 L479.88 154.80 L480.17 153.75 L480.45 152.65 L480.75 151.49 L481.09 150.52 L481.50 150.00 L481.77 149.97 L482.07 150.07 L482.38 150.24 L482.67 150.42 L482.96 150.65 L483.24 150.94 L483.51 151.18 L483.75 151.25 L484.00 151.05 L484.21 150.64 L484.40 150.12 L484.58 149.58 L484.80 148.60 L484.96 147.38 L485.15 146.32 L485.42 145.83 L485.70 145.98 L486.02 146.43 L486.36 146.99 L486.67 147.50 L486.93 147.92 L487.17 148.35 L487.41 148.77 L487.67 149.17 L487.94 149.57 L488.22 149.99 L488.50 150.31 L488.75 150.42 L489.01 150.07 L489.22 149.30 L489.40 148.37 L489.58 147.50 L489.80 146.69 L490.01 145.86 L490.21 145.02 L490.42 144.17 L490.62 143.07 L490.82 141.85 L491.02 140.84 L491.25 140.42 L491.45 140.62 L491.66 141.16 L491.88 141.84 L492.08 142.50 L492.31 143.25 L492.52 144.05 L492.73 144.91 L492.92 145.83 L493.15 147.15 L493.36 148.58 L493.56 150.10 L493.75 151.67 L493.97 153.64 L494.18 155.71 L494.38 157.85 L494.58 160.00 L494.80 162.31 L495.02 164.68 L495.23 167.01 L495.42 169.17 L495.53 170.73 L495.62 172.19 L495.72 173.60 L495.83 175.00 L495.98 176.27 L496.14 177.50 L496.30 178.73 L496.42 180.00 L496.45 181.46 L496.42 182.99 L496.41 184.48 L496.50 185.83 L496.67 186.89 L496.89 187.98 L497.12 188.83 L497.33 189.17 L497.56 188.37 L497.75 186.51 L497.94 184.31 L498.17 182.50 L498.35 181.43 L498.55 180.35 L498.76 179.51 L499.00 179.17 L499.28 179.52 L499.60 180.41 L499.93 181.51 L500.25 182.50 L500.57 183.32 L500.88 184.14 L501.20 184.97 L501.50 185.83 L501.82 186.84 L502.13 187.89 L502.44 188.95 L502.75 190.00 L503.04 191.22 L503.33 192.57 L503.63 193.67 L504.00 194.17 L504.36 193.86 L504.76 193.13 L505.15 192.39 L505.50 192.08 L505.81 192.40 L506.06 193.12 L506.29 194.05 L506.50 195.00 L506.76 196.51 L506.95 198.26 L507.13 200.05 L507.33 201.67 L507.49 202.94 L507.64 204.25 L507.84 205.31 L508.17 205.83 L508.44 205.76 L508.76 205.47 L509.09 205.15 L509.42 205.00 L509.74 205.06 L510.08 205.22 L510.39 205.49 L510.67 205.83 L511.04 206.94 L511.24 208.50 L511.37 210.19 L511.50 211.67 L511.62 212.53 L511.73 213.31 L511.82 214.10 L511.92 215.00 L512.02 216.62 L512.09 218.48 L512.18 220.38 L512.33 222.17 L512.53 223.62 L512.76 225.03 L513.03 226.37 L513.33 227.58 L513.58 228.40 L513.86 229.16 L514.14 229.85 L514.42 230.50 L514.62 231.03 L514.83 231.57 L515.03 232.00 L515.25 232.17 L515.51 231.84 L515.78 231.13 L516.06 230.41 L516.33 230.08 L516.59 230.23 L516.86 230.63 L517.11 231.17 L517.33 231.75 L517.61 232.95 L517.79 234.45 L517.95 235.96 L518.17 237.17 L518.32 237.74 L518.49 238.28 L518.66 238.68 L518.83 238.83 L519.09 238.37 L519.34 237.26 L519.58 235.90 L519.83 234.67 L520.05 233.47 L520.24 232.17 L520.48 231.08 L520.83 230.50 L521.08 230.47 L521.36 230.58 L521.64 230.75 L521.92 230.92 L522.20 231.15 L522.49 231.46 L522.76 231.70 L523.00 231.75 L523.34 231.09 L523.54 229.71 L523.68 227.99 L523.83 226.33 L524.06 224.36 L524.28 222.22 L524.48 220.06 L524.67 218.00 L524.83 216.28 L524.98 214.61 L525.12 212.97 L525.25 211.33 L525.36 209.75 L525.45 208.19 L525.54 206.62 L525.67 205.00 L525.84 203.14 L526.04 201.21 L526.26 199.30 L526.50 197.50 L526.76 195.94 L527.05 194.35 L527.32 192.99 L527.50 192.08 L527.52 191.95 L527.54 191.87 L527.55 191.78 L527.58 191.67 L527.73 191.22 L527.96 190.63 L528.20 189.93 L528.42 189.17 L528.67 187.75 L528.88 186.09 L529.06 184.30 L529.25 182.50 L529.46 180.44 L529.66 178.28 L529.86 176.14 L530.08 174.17 L530.25 172.66 L530.41 171.21 L530.62 169.88 L530.92 168.75 L531.19 168.05 L531.51 167.37 L531.84 166.87 L532.17 166.67 L532.48 166.89 L532.79 167.45 L533.10 168.13 L533.42 168.75 L533.72 169.34 L534.01 169.98 L534.32 170.53 L534.67 170.83 L534.97 170.80 L535.30 170.61 L535.63 170.42 L535.92 170.42 L536.33 171.11 L536.62 172.39 L536.87 173.82 L537.17 175.00 L537.41 175.69 L537.67 176.37 L537.93 176.89 L538.17 177.08 L538.45 176.53 L538.70 175.25 L538.95 173.75 L539.25 172.50 L539.52 171.73 L539.81 170.96 L540.13 170.34 L540.50 170.00 L540.80 170.02 L541.12 170.20 L541.45 170.39 L541.75 170.42 L542.09 170.08 L542.38 169.49 L542.67 168.85 L543.00 168.33 L543.30 168.04 L543.61 167.77 L543.93 167.57 L544.25 167.50 L544.57 167.64 L544.89 167.94 L545.20 168.23 L545.50 168.33 L545.83 168.11 L546.13 167.66 L546.44 167.13 L546.75 166.67 L547.06 166.33 L547.37 166.02 L547.69 165.72 L548.00 165.42 L548.32 165.12 L548.64 164.84 L548.96 164.53 L549.25 164.17 L549.60 163.54 L549.91 162.80 L550.20 162.01 L550.50 161.25 L550.80 160.39 L551.10 159.45 L551.41 158.68 L551.75 158.33 L552.05 158.50 L552.36 158.94 L552.68 159.50 L553.00 160.00 L553.32 160.50 L553.64 161.06 L553.95 161.50 L554.25 161.67 L554.57 161.26 L554.84 160.38 L555.14 159.41 L555.50 158.75 L555.79 158.58 L556.11 158.51 L556.44 158.45 L556.75 158.33 L557.08 158.10 L557.41 157.82 L557.71 157.48 L558.00 157.08 L558.36 156.22 L558.68 155.11 L558.97 154.15 L559.25 153.75 L559.48 154.01 L559.69 154.64 L559.89 155.45 L560.08 156.25 L560.32 157.27 L560.53 158.38 L560.73 159.57 L560.92 160.83 L561.14 162.60 L561.34 164.53 L561.54 166.48 L561.75 168.33 L561.95 170.12 L562.14 172.02 L562.35 173.54 L562.58 174.17 L562.78 173.84 L563.00 173.00 L563.22 171.91 L563.42 170.83 L563.61 169.22 L563.74 167.35 L563.92 165.56 L564.25 164.17 L564.53 163.65 L564.86 163.25 L565.20 162.89 L565.50 162.50 L565.74 162.12 L565.95 161.74 L566.15 161.33 L566.33 160.83 L566.60 159.62 L566.81 158.12 L566.99 156.51 L567.17 155.00 L567.34 153.76 L567.50 152.58 L567.67 151.36 L567.83 150.00 L567.98 147.48 L568.08 144.51 L568.30 141.79 L568.83 140.00 L569.19 139.60 L569.60 139.33 L570.05 139.19 L570.50 139.17 L571.09 139.39 L571.71 139.86 L572.35 140.40 L573.00 140.83 L573.62 141.05 L574.27 141.19 L574.90 141.36 L575.50 141.67 L576.20 142.25 L576.86 142.98 L577.47 143.89 L578.00 145.00 L578.65 148.21 L578.95 152.48 L579.19 156.76 L579.67 160.00 L580.06 161.19 L580.50 162.28 L580.94 163.06 L581.33 163.33 L581.86 162.29 L582.28 159.81 L582.65 156.58 L583.00 153.33 L583.49 148.07 L583.90 141.96 L584.27 135.70 L584.67 130.00 L584.99 125.90 L585.31 121.97 L585.64 118.31 L586.00 115.00 L586.27 112.59 L586.54 110.16 L586.84 108.27 L587.17 107.50 L587.45 107.86 L587.76 108.83 L588.06 110.17 L588.33 111.67 L588.78 116.65 L589.05 123.44 L589.29 130.59 L589.67 136.67 L590.03 139.94 L590.44 142.90 L590.88 145.66 L591.33 148.33 L591.72 150.53 L592.13 152.62 L592.55 154.65 L593.00 156.67 L593.50 158.62 L594.04 160.58 L594.56 162.45 L595.00 164.17 L595.25 165.29 L595.45 166.32 L595.64 167.32 L595.83 168.33 L596.04 169.39 L596.24 170.47 L596.45 171.51 L596.67 172.50 L596.85 173.39 L597.04 174.32 L597.25 175.07 L597.50 175.42 L597.70 175.30 L597.92 174.99 L598.14 174.69 L598.33 174.58 L598.67 175.65 L598.82 177.99 L598.89 180.82 L599.00 183.33 L599.16 185.60 L599.33 188.06 L599.48 190.03 L599.58 190.83 L599.61 190.18 L599.60 188.75 L599.60 187.32 L599.67 186.67 L599.91 187.92 L600.27 190.85 L600.75 194.19 L601.33 196.67 L601.72 197.57 L602.17 198.40 L602.61 198.98 L603.00 199.17 L603.55 197.86 L603.99 195.05 L604.35 192.00 L604.67 190.00 L604.76 189.74 L604.84 189.58 L604.92 189.41 L605.00 189.17 L605.22 187.96 L605.43 186.26 L605.63 184.35 L605.83 182.50 L606.04 180.60 L606.23 178.61 L606.43 176.70 L606.67 175.00 L606.85 173.80 L607.05 172.58 L607.27 171.64 L607.50 171.25 L607.70 171.44 L607.92 171.95 L608.14 172.63 L608.33 173.33 L608.59 174.58 L608.79 176.06 L608.97 177.64 L609.17 179.17 L609.36 180.70 L609.54 182.27 L609.75 183.76 L610.00 185.00 L610.19 185.70 L610.40 186.37 L610.62 186.88 L610.83 187.08 L611.04 186.86 L611.23 186.31 L611.44 185.63 L611.67 185.00 L611.96 184.27 L612.29 183.45 L612.61 182.78 L612.92 182.50 L613.14 182.77 L613.36 183.35 L613.56 183.92 L613.75 184.17 L614.00 183.66 L614.21 182.47 L614.40 180.99 L614.58 179.58 L614.79 177.80 L614.97 175.75 L615.17 174.05 L615.42 173.33 L615.61 173.58 L615.83 174.22 L616.05 175.04 L616.25 175.83 L616.48 176.79 L616.69 177.82 L616.89 178.90 L617.08 180.00 L617.28 181.30 L617.45 182.69 L617.65 183.99 L617.92 185.00 L618.11 185.45 L618.33 185.86 L618.54 186.15 L618.75 186.25 L618.98 186.03 L619.19 185.52 L619.40 184.85 L619.58 184.17 L619.83 183.10 L620.04 181.89 L620.23 180.56 L620.42 179.17 L620.64 177.22 L620.85 175.11 L621.04 172.94 L621.25 170.83 L621.45 168.88 L621.64 166.92 L621.85 165.04 L622.08 163.33 L622.27 162.02 L622.46 160.67 L622.67 159.61 L622.92 159.17 L623.12 159.31 L623.34 159.70 L623.56 160.24 L623.75 160.83 L624.00 162.26 L624.16 164.09 L624.32 165.96 L624.58 167.50 L624.83 168.34 L625.10 169.15 L625.39 169.76 L625.67 170.00 L625.92 169.71 L626.15 169.02 L626.40 168.20 L626.67 167.50 L626.93 166.97 L627.22 166.42 L627.50 165.99 L627.75 165.83 L628.00 166.09 L628.21 166.68 L628.41 167.48 L628.58 168.33 L628.85 170.22 L629.03 172.58 L629.17 175.10 L629.33 177.50 L629.49 179.66 L629.64 181.83 L629.80 183.91 L630.00 185.83 L630.18 187.41 L630.38 189.03 L630.59 190.31 L630.83 190.83 L631.03 190.60 L631.25 189.99 L631.47 189.18 L631.67 188.33 L631.92 186.69 L632.10 184.68 L632.28 182.62 L632.50 180.83 L632.69 179.63 L632.89 178.42 L633.10 177.47 L633.33 177.08 L633.53 177.28 L633.75 177.79 L633.97 178.48 L634.17 179.17 L634.41 180.26 L634.61 181.53 L634.80 182.86 L635.00 184.17 L635.19 185.48 L635.37 186.84 L635.58 188.11 L635.83 189.17 L636.03 189.74 L636.25 190.29 L636.47 190.69 L636.67 190.83 L636.92 190.24 L637.11 188.87 L637.29 187.24 L637.50 185.83 L637.66 184.83 L637.82 183.81 L638.02 182.97 L638.33 182.50 L638.61 182.51 L638.94 182.69 L639.27 182.88 L639.58 182.92 L639.91 182.63 L640.21 182.12 L640.50 181.59 L640.83 181.25 L641.13 181.15 L641.45 181.12 L641.78 181.16 L642.08 181.25 L642.42 181.46 L642.73 181.77 L643.03 182.14 L643.33 182.50 L643.67 182.86 L644.00 183.23 L644.31 183.65 L644.58 184.17 L644.92 185.40 L645.15 186.95 L645.30 188.57 L645.42 190.00 L645.46 190.85 L645.45 191.60 L645.45 192.38 L645.50 193.33 L645.79 195.81 L646.25 198.89 L646.75 202.10 L647.17 205.00 L647.45 207.34 L647.72 209.79 L647.92 211.72 L648.00 212.50" stroke="#008000"/>
</g>
<path d="M160.5 491.5V32.5M230.5 491.5V32.5M299.5 491.5V32.5M369.5 491.5V32.5M439.5 491.5V32.5M509.5 491.5V32.5M578.5 491.5V32.5M90.5 90.5H648.5M90.5 147.5H648.5M90.5 205.5H648.5M90.5 262.5H648.5M90.5 319.5H648.5M90.5 377.5H648.5M90.5 434.5H648.5" stroke="#000" stroke-width="0.75" stroke-dasharray="1.25 3.75" fill="none"/>
<rect x="90" y="482" width="488.25" height="9.399999999999977" fill="#40ff40"/>
<rect x="578.25" y="482" width="69.75" height="9.399999999999977" fill="#ffff40"/>
<path d="M160.5 32.5v5.2M160.5 491.5v-6.5M230.5 32.5v5.2M230.5 491.5v-6.5M299.5 32.5v5.2M299.5 491.5v-6.5M369.5 32.5v5.2M369.5 491.5v-6.5M439.5 32.5v5.2M439.5 491.5v-6.5M509.5 32.5v5.2M509.5 491.5v-6.5M578.5 32.5v5.2M578.5 491.5v-6.5M90.5 90.5h5.2M648.5 90.5h-5.2M90.5 147.5h5.2M648.5 147.5h-5.2M90.5 205.5h5.2M648.5 205.5h-5.2M90.5 262.5h5.2M648.5 262.5h-5.2M90.5 319.5h5.2M648.5 319.5h-5.2M90.5 377.5h5.2M648.5 377.5h-5.2M90.5 434.5h5.2M648.5 434.5h-5.2" stroke="#000" stroke-width="0.8" fill="none"/>
<rect x="90.5" y="32.5" width="558.0" height="459.0" stroke="#000" stroke-width="1.25" fill="none"/>
<text x="369.7" y="26" font-size="18" text-anchor="middle">SAM Haegersten FLC Magnetometer (59.28N 17.96E)</text>
<text x="84.5" y="35.5" font-size="15" text-anchor="end">200</text>
<text x="84.5" y="93.5" font-size="15" text-anchor="end">150</text>
<text x="84.5" y="150.5" font-size="15" text-anchor="end">100</text>
<text x="84.5" y="208.5" font-size="15" text-anchor="end">50</text>
<text x="85.8" y="265.5" font-size="15" text-anchor="end">0</text>
<text x="84.5" y="322.5" font-size="15" text-anchor="end">−50</text>
<text x="84.5" y="380.5" font-size="15" text-anchor="end">−100</text>
<text x="84.5" y="437.5" font-size="15" text-anchor="end">−150</text>
<text x="84.5" y="494.5" font-size="15" text-anchor="end">−200</text>
<text x="90.5" y="507" font-size="15" text-anchor="middle">00:00</text>
<text x="160.5" y="507" font-size="15" text-anchor="middle">03:00</text>
<text x="230.5" y="507" font-size="15" text-anchor="middle">06:00</text>
<text x="299.5" y="507" font-size="15" text-anchor="middle">09:00</text>
<text x="369.5" y="507" font-size="15" text-anchor="middle">12:00</text>
<text x="439.5" y="507" font-size="15" text-anchor="middle">15:00</text>
<text x="509.5" y="507" font-size="15" text-anchor="middle">18:00</text>
<text x="578.5" y="507" font-size="15" text-anchor="middle">21:00</text>
<text x="648.5" y="507" font-size="15" text-anchor="middle">00:00</text>
<text x="369" y="528" font-size="15" text-anchor="middle">Time [UTC]</text>
<text transform="translate(42.5 262) rotate(-90)" x="0" y="0" font-size="15" text-anchor="middle">Magnetic field [nT]</text>
<text x="124.88" y="48.90" font-size="12.5" text-anchor="middle" fill="#0000ff">K 2</text>
<text x="124.88" y="64.70" font-size="12.5" text-anchor="middle" fill="#ff0000">K 3</text>
<text x="124.88" y="80.50" font-size="12.5" text-anchor="middle" fill="#008000">K 4</text>
<text x="194.62" y="48.90" font-size="12.5" text-anchor="middle" fill="#0000ff">K 1</text>
<text x="194.62" y="64.70" font-size="12.5" text-anchor="middle" fill="#ff0000">K 1</text>
<text x="194.62" y="80.50" font-size="12.5" text-anchor="middle" fill="#008000">K 3</text>
<text x="264.38" y="48.90" font-size="12.5" text-anchor="middle" fill="#0000ff">K 1</text>
<text x="264.38" y="64.70" font-size="12.5" text-anchor="middle" fill="#ff0000">K 0</text>
<text x="264.38" y="80.50" font-size="12.5" text-anchor="middle" fill="#008000">K 2</text>
<text x="334.12" y="48.90" font-size="12.5" text-anchor="middle" fill="#0000ff">K 0</text>
<text x="334.12" y="64.70" font-size="12.5" text-anchor="middle" fill="#ff0000">K 2</text>
<text x="334.12" y="80.50" font-size="12.5" text-anchor="middle" fill="#008000">K 3</text>
<text x="403.88" y="48.90" font-size="12.5" text-anchor="middle" fill="#0000ff">K 1</text>
<text x="403.88" y="64.70" font-size="12.5" text-anchor="middle" fill="#ff0000">K 1</text>
<text x="403.88" y="80.50" font-size="12.5" text-anchor="middle" fill="#008000">K 2</text>
<text x="473.62" y="48.90" font-size="12.5" text-anchor="middle" fill="#0000ff">K 2</text>
<text x="473.62" y="64.70" font-size="12.5" text-anchor="middle" fill="#ff0000">K 2</text>
<text x="473.62" y="80.50" font-size="12.5" text-anchor="middle" fill="#008000">K 4</text>
<text x="543.38" y="48.90" font-size="12.5" text-anchor="middle" fill="#0000ff">K 2</text>
<text x="543.38" y="64.70" font-size="12.5" text-anchor="middle" fill="#ff0000">K 3</text>
<text x="543.38" y="80.50" font-size="12.5" text-anchor="middle" fill="#008000">K 4</text>
<text x="613.12" y="48.90" font-size="12.5" text-anchor="middle" fill="#0000ff">K 5</text>
<text x="613.12" y="64.70" font-size="12.5" text-anchor="middle" fill="#ff0000">K 4</text>
<text x="613.12" y="80.50" font-size="12.5" text-anchor="middle" fill="#008000">K 4</text>
<text x="100.3" y="426.6" font-size="18.3">A=12.0</text>
<text x="99.2" y="435.1" font-size="13.2" fill="#0000ff" style="font-family:'Liberation Serif',serif;font-style:italic">B<tspan font-size="9" dy="3">x</tspan></text>
<text x="117" y="435.8" font-size="12.5" fill="#808080">North component</text>
<text x="99.2" y="448.40000000000003" font-size="13.2" fill="#ff0000" style="font-family:'Liberation Serif',serif;font-style:italic">B<tspan font-size="9" dy="3">y</tspan></text>
<text x="117" y="451.6" font-size="12.5" fill="#808080">East component</text>
<text x="99.2" y="466.2" font-size="13.2" fill="#008000" style="font-family:'Liberation Serif',serif;font-style:italic">B<tspan font-size="9" dy="3">z</tspan></text>
<text x="117" y="467.7" font-size="12.5" fill="#808080">Vertical component</text>
<text x="639.8" y="452" font-size="12.55" text-anchor="end">Haegersten FLC Magnetometer 2026 Feb 14</text>
<text x="640" y="467.5" font-size="12.5" text-anchor="end" fill="#808080">59.46°N, 17.89°E - 57.86°N (magn.)</text>
<g><rect x="524.62" y="24.21" width="3.61" height="2.04" fill="#fff"/><rect x="529.81" y="24.21" width="3.56" height="2.04" fill="#fff"/><rect x="60.11" y="91.93" width="3.08" height="1.82" fill="#fff"/><rect x="64.52" y="91.93" width="3.06" height="1.82" fill="#fff"/><rect x="60.11" y="148.93" width="3.08" height="1.82" fill="#fff"/><rect x="64.52" y="148.93" width="3.06" height="1.82" fill="#fff"/><rect x="60.10" y="378.93" width="3.08" height="1.82" fill="#fff"/><rect x="64.50" y="378.93" width="3.06" height="1.82" fill="#fff"/><rect x="60.10" y="435.93" width="3.08" height="1.82" fill="#fff"/><rect x="64.50" y="435.93" width="3.06" height="1.82" fill="#fff"/><rect x="351.37" y="505.43" width="3.08" height="1.82" fill="#fff"/><rect x="355.77" y="505.43" width="3.06" height="1.82" fill="#fff"/><rect x="421.37" y="505.43" width="3.08" height="1.82" fill="#fff"/><rect x="425.77" y="505.43" width="3.06" height="1.82" fill="#fff"/><rect x="491.37" y="505.43" width="3.08" height="1.82" fill="#fff"/><rect x="495.77" y="505.43" width="3.06" height="1.82" fill="#fff"/><rect x="568.70" y="505.43" width="3.08" height="1.82" fill="#fff"/><rect x="573.10" y="505.43" width="3.06" height="1.82" fill="#fff"/><rect x="197.49" y="47.52" width="2.64" height="1.63" fill="#fff"/><rect x="201.23" y="47.52" width="2.64" height="1.63" fill="#fff"/><rect x="197.49" y="63.32" width="2.64" height="1.63" fill="#fff"/><rect x="201.23" y="63.32" width="2.64" height="1.63" fill="#fff"/><rect x="267.25" y="47.52" width="2.64" height="1.63" fill="#fff"/><rect x="270.99" y="47.52" width="2.64" height="1.63" fill="#fff"/><rect x="406.75" y="47.52" width="2.64" height="1.63" fill="#fff"/><rect x="410.49" y="47.52" width="2.64" height="1.63" fill="#fff"/><rect x="406.75" y="63.32" width="2.64" height="1.63" fill="#fff"/><rect x="410.49" y="63.32" width="2.64" height="1.63" fill="#fff"/><rect x="124.05" y="424.78" width="3.66" height="2.07" fill="#fff"/><rect x="129.33" y="424.78" width="3.61" height="2.07" fill="#fff"/><rect x="626.29" y="450.61" width="2.65" height="1.64" fill="#fff"/><rect x="630.05" y="450.61" width="2.65" height="1.64" fill="#fff"/><rect x="492.87" y="466.12" width="2.64" height="1.63" fill="#fff"/><rect x="496.62" y="466.12" width="2.64" height="1.63" fill="#fff"/></g></svg></div></body></html>
